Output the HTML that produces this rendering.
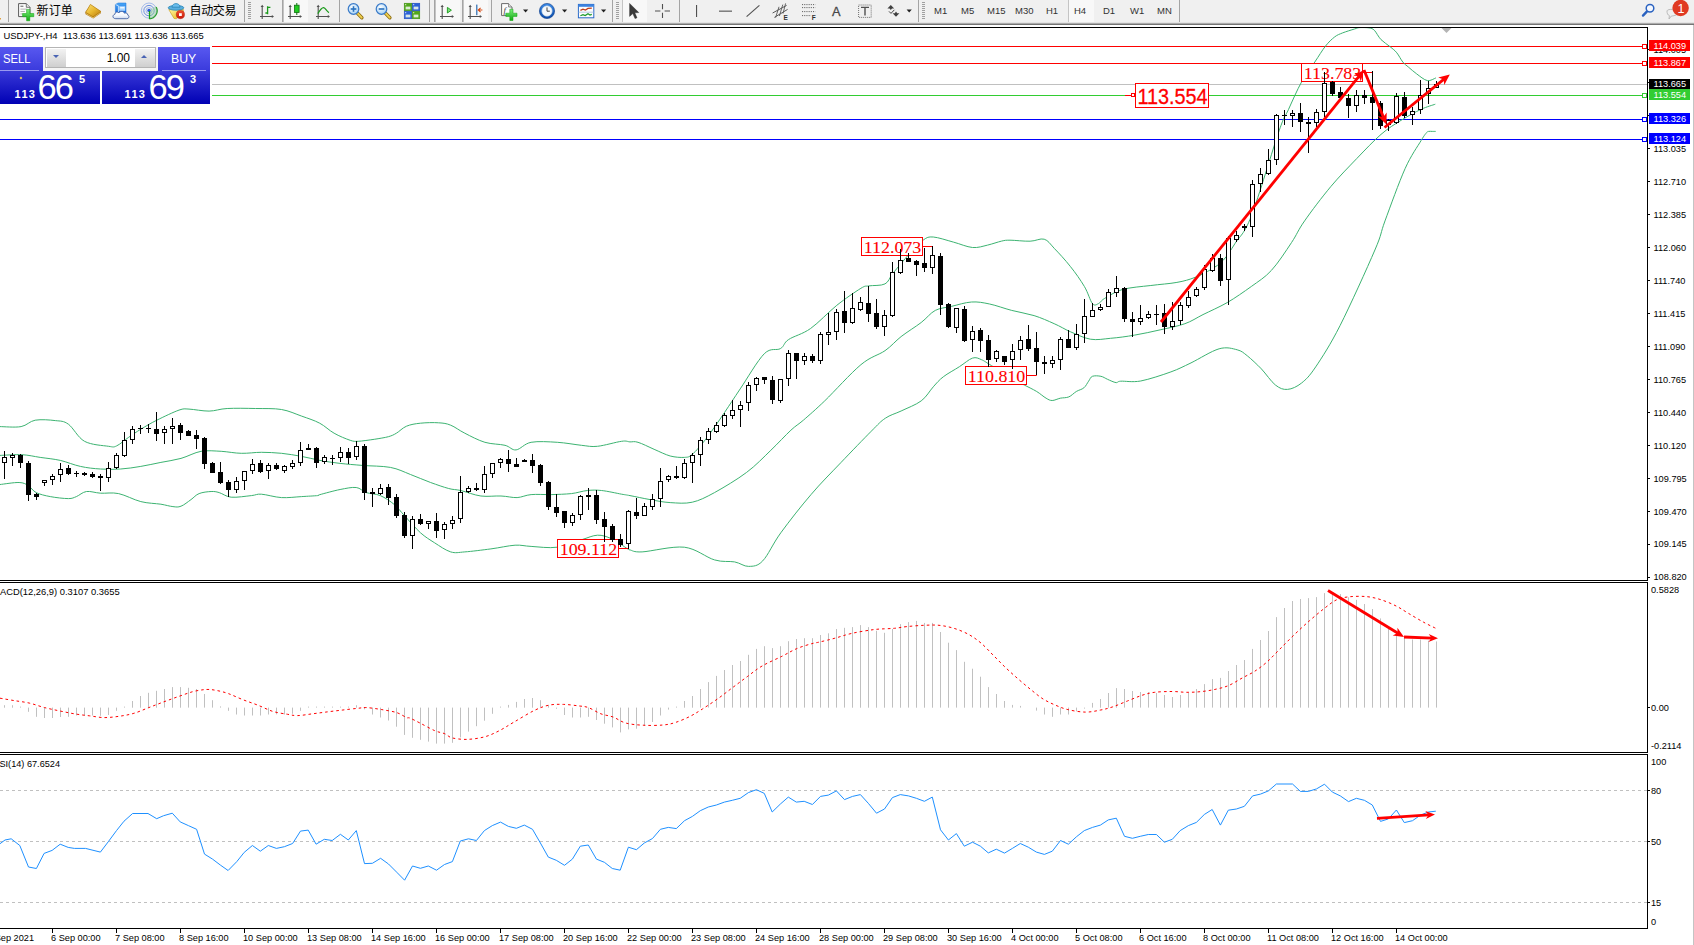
<!DOCTYPE html>
<html><head><meta charset="utf-8"><title>USDJPY H4</title>
<style>
html,body{margin:0;padding:0;background:#fff;}
body{width:1694px;height:945px;overflow:hidden;position:relative;font-family:"Liberation Sans","Noto Sans CJK SC",sans-serif;}
#tb{position:absolute;left:0;top:0;width:1694px;height:23px;background:linear-gradient(#f0f0f0 0,#f0f0f0 21.5px,#dedede 23px);}
#tbl1{position:absolute;left:0;top:23px;width:1694px;height:1px;background:#ababab;}
#tbl2{position:absolute;left:0;top:24px;width:1694px;height:1px;background:#747474;}
#redge{position:absolute;left:1693px;top:25px;width:1px;height:920px;background:#c4c4c4;}
svg{position:absolute;left:0;top:0;}
.ax{font-size:9.2px;fill:#000;font-family:"Liberation Sans",sans-serif;}
.axw{font-size:9.2px;fill:#fff;font-family:"Liberation Sans",sans-serif;}
.cn{position:absolute;top:2px;font-size:12px;line-height:16px;color:#000;white-space:nowrap;letter-spacing:-0.3px}
.tf{position:absolute;top:5px;font-size:9.5px;line-height:12px;color:#333;white-space:nowrap;}
.sep{position:absolute;top:0px;width:1px;height:22px;background:#a4a4a4;}
.grip{position:absolute;top:2px;width:3px;height:18px;background:repeating-linear-gradient(#a0a0a0 0 1px,#f0f0f0 1px 2px);}
.sel{position:absolute;top:0px;height:22px;background:#f8f8f8;border-left:1px solid #c4c4c4;}
#trade{position:absolute;left:0;top:47px;width:210px;height:57px;background:#fff;color:#fff;}
#trade div{position:absolute;}
</style></head><body>
<div id="tb"></div><div id="tbl1"></div><div id="tbl2"></div><div id="redge"></div>

<div class="cn" style="left:36.6px;top:3px;letter-spacing:0.1px">新订单</div>
<div class="cn" style="left:189.6px;top:3px;letter-spacing:-0.4px">自动交易</div>
<div class="sep" style="left:8px"></div>
<div class="sep" style="left:244px"></div>
<div class="sep" style="left:282px"></div>
<div class="sep" style="left:339px"></div>
<div class="sep" style="left:429px"></div>
<div class="sep" style="left:434px"></div>
<div class="sep" style="left:462px"></div>
<div class="sep" style="left:491px"></div>
<div class="sep" style="left:612px"></div>
<div class="sep" style="left:679px"></div>
<div class="sep" style="left:918px"></div>
<div class="sep" style="left:1179px"></div>
<div class="grip" style="left:248px"></div>
<div class="grip" style="left:616px"></div>
<div class="grip" style="left:922px"></div>
<div class="sel" style="left:283px;width:24px"></div>
<div class="sel" style="left:435px;width:24px"></div>
<div class="sel" style="left:463px;width:24px"></div>
<div class="sel" style="left:622px;width:24px"></div>
<div class="sel" style="left:1068px;width:25px"></div>
<div class="tf" style="left:934px">M1</div>
<div class="tf" style="left:961px">M5</div>
<div class="tf" style="left:987px">M15</div>
<div class="tf" style="left:1015px">M30</div>
<div class="tf" style="left:1046px">H1</div>
<div class="tf" style="left:1074px">H4</div>
<div class="tf" style="left:1103px">D1</div>
<div class="tf" style="left:1130px">W1</div>
<div class="tf" style="left:1157px">MN</div>
<svg width="1694" height="945" viewBox="0 0 1694 945">
<defs>
<linearGradient id="gGold" x1="0" y1="0" x2="1" y2="1"><stop offset="0" stop-color="#fbe27a"/><stop offset="0.5" stop-color="#e8b830"/><stop offset="1" stop-color="#b87a10"/></linearGradient>
<linearGradient id="gGreen" x1="0" y1="0" x2="0" y2="1"><stop offset="0" stop-color="#7cf07c"/><stop offset="1" stop-color="#12a812"/></linearGradient>
<linearGradient id="gBlue" x1="0" y1="0" x2="0" y2="1"><stop offset="0" stop-color="#4aa8f8"/><stop offset="1" stop-color="#1a6ad8"/></linearGradient>
<linearGradient id="gCloud" x1="0" y1="0" x2="0" y2="1"><stop offset="0" stop-color="#ffffff"/><stop offset="0.55" stop-color="#f4f8fe"/><stop offset="1" stop-color="#ccd8ee"/></linearGradient>
<radialGradient id="gLens" cx="0.4" cy="0.35" r="0.7"><stop offset="0" stop-color="#ffffff"/><stop offset="1" stop-color="#9ccdf4"/></radialGradient>
<linearGradient id="gClock" x1="0" y1="0" x2="0" y2="1"><stop offset="0" stop-color="#3a8ae8"/><stop offset="1" stop-color="#0a4aa8"/></linearGradient>
<linearGradient id="gYel" x1="0" y1="0" x2="1" y2="1"><stop offset="0" stop-color="#fff4a0"/><stop offset="1" stop-color="#e8b818"/></linearGradient>
<linearGradient id="gRed" x1="0" y1="0" x2="0" y2="1"><stop offset="0" stop-color="#f05030"/><stop offset="1" stop-color="#c81808"/></linearGradient>
</defs>
<rect x="0" y="18" width="1" height="1.5" fill="#e0a040"/>
<g transform="translate(18,3)">
<path d="M0.6 0.6 H8.3 L12 4.3 V13.6 H0.6 Z" fill="#fdfdfd" stroke="#5a5a5a" stroke-width="1"/>
<path d="M8.3 0.6 V4.3 H12" fill="#e4e4e4" stroke="#5a5a5a" stroke-width="0.8"/>
<rect x="2.4" y="2.6" width="3" height="1.4" fill="#8a8a8a"/>
<rect x="2.4" y="5.6" width="6.4" height="1" fill="#b4b4b4"/>
<rect x="2.4" y="8" width="4.5" height="1" fill="#b4b4b4"/>
<rect x="2.4" y="10.4" width="2.5" height="1" fill="#b4b4b4"/>
<path d="M8.6 6.4h3.2v4.1h4v3.2h-4v4.1H8.6v-4.1H4.6v-3.2h4z" fill="url(#gGreen)" stroke="#0aa00a" stroke-width="0.5"/>
</g>
<g>
<path d="M85.3 12.6 L90.4 4.6 L101 11.6 L100.8 13.2 L93.2 18.6 L85.6 14.2 Z" fill="#a86c0c"/>
<path d="M85.6 12.2 C87.6 10 88.6 7 90.4 4.4 L100.9 11.4 L93 16.8 Z" fill="url(#gGold)" stroke="#b8820e" stroke-width="0.6"/>
<path d="M86 13.6 L93.1 17.8 L100.6 12.6" fill="none" stroke="#f6dc80" stroke-width="0.7"/>
</g>
<g>
<path d="M115.4 4.4 L118.2 3 H126 V12.8 H115.4 Z" fill="url(#gBlue)" stroke="#1a72d8" stroke-width="0.5"/>
<path d="M115.6 4.6 L118.4 5.8 V12.6" fill="none" stroke="#cfe8ff" stroke-width="0.9"/>
<rect x="119.2" y="6.2" width="6" height="4.6" fill="#a6d4ff"/>
<rect x="120.2" y="7.2" width="4.2" height="1.2" fill="#ffffff"/>
<path d="M115.8 18.7 C112.4 18.7 112 15 114.8 14.4 C114.6 12 117.8 11.4 119 12.8 C120.2 10.8 123.8 11 124.4 13.2 C126.4 12.4 128.2 13.6 127.6 15 C129.8 15.4 129.4 18.7 126.8 18.7 Z" fill="url(#gCloud)" stroke="#4664a4" stroke-width="0.9"/>
</g>
<g fill="none">
<circle cx="149" cy="10.6" r="7.6" stroke="#9ab4e8" stroke-width="1" opacity="0.9"/>
<circle cx="149" cy="10.6" r="5.2" stroke="#6a8ee0" stroke-width="1"/>
<circle cx="149" cy="10.6" r="3" stroke="#8aaae8" stroke-width="0.8"/>
<path d="M149 10.6 L149 18.6 A8 8 0 0 0 155.6 6.2 Z" fill="#8ccc8c" opacity="0.4"/>
<path d="M149.4 18.8 A8 8 0 0 0 156.2 7" stroke="#2aa02a" stroke-width="1.2"/>
<circle cx="149" cy="10.4" r="1.7" fill="#2a5ad8"/>
<rect x="148.9" y="11" width="1.2" height="8" fill="#18a018"/>
</g>
<g>
<path d="M168.8 9.6 L183.4 9.4 L183.2 12 L176.4 18.8 L174 18.4 Z" fill="url(#gYel)" stroke="#c89a10" stroke-width="0.6"/>
<ellipse cx="176" cy="7.8" rx="7.8" ry="2.4" fill="#5aaede" stroke="#2a86b8" stroke-width="0.8"/>
<path d="M172 7.2 C172 2.4 180 2.4 180 7.2 Z" fill="#6abcec" stroke="#2a86b8" stroke-width="0.8"/>
<circle cx="180.4" cy="14.6" r="4.1" fill="url(#gRed)" stroke="#b01808" stroke-width="0.5"/>
<rect x="179" y="13.2" width="2.8" height="2.8" fill="#fff"/>
</g>
<g stroke="#505050" stroke-width="1.1" fill="#505050">
<path d="M262.2 6.0 V19.0 M260.0 16.5 H272.5" fill="none"/>
<path d="M262.2 4.7 l-1.6 2.2 h3.2z M274.0 16.5 l-2.2 -1.6 v3.2z" stroke="none"/>
</g>
<path d="M267.6 6.2 V14.2 M267.6 7.4 H270.4 M265.4 13 H267.6" stroke="#1a9a1a" stroke-width="1.3" fill="none"/>
<g stroke="#505050" stroke-width="1.1" fill="#505050">
<path d="M290.2 6.0 V19.0 M288.0 16.5 H300.5" fill="none"/>
<path d="M290.2 4.7 l-1.6 2.2 h3.2z M302.0 16.5 l-2.2 -1.6 v3.2z" stroke="none"/>
</g>
<rect x="296.3" y="3" width="1" height="12" fill="#107010"/>
<rect x="294.5" y="5.2" width="4.6" height="7.2" fill="#22cc22" stroke="#107010" stroke-width="0.8"/>
<g stroke="#505050" stroke-width="1.1" fill="#505050">
<path d="M318.2 6.0 V19.0 M316.0 16.5 H328.5" fill="none"/>
<path d="M318.2 4.7 l-1.6 2.2 h3.2z M330.0 16.5 l-2.2 -1.6 v3.2z" stroke="none"/>
</g>
<path d="M317.8 13.6 C320 10 322 7.4 323.6 7.6 C325.6 8 326.6 11.4 329 12.6" stroke="#1a9a1a" stroke-width="1.2" fill="none"/>
<path d="M357.5 13.2 L361.9 17.8" stroke="#8a6a10" stroke-width="3.4" stroke-linecap="round"/>
<path d="M357.7 13.4 L361.7 17.6" stroke="#f0d050" stroke-width="2" stroke-linecap="round"/>
<circle cx="353.5" cy="9.0" r="5.3" fill="url(#gLens)" stroke="#3a7ac8" stroke-width="1.2"/>
<rect x="350.7" y="8.2" width="5.6" height="1.6" fill="#2a72c0"/>
<rect x="352.7" y="6.2" width="1.6" height="5.6" fill="#2a72c0"/>
<path d="M385.5 13.2 L389.9 17.8" stroke="#8a6a10" stroke-width="3.4" stroke-linecap="round"/>
<path d="M385.7 13.4 L389.7 17.6" stroke="#f0d050" stroke-width="2" stroke-linecap="round"/>
<circle cx="381.5" cy="9.0" r="5.3" fill="url(#gLens)" stroke="#3a7ac8" stroke-width="1.2"/>
<rect x="378.7" y="8.2" width="5.6" height="1.6" fill="#2a72c0"/>
<rect x="404.2" y="3.2" width="7.6" height="7.6" fill="#52a818" stroke="#3a8a10" stroke-width="0.5"/>
<rect x="405.6" y="6.6" width="4.8" height="2.8" fill="#e8f4e8" opacity="0.9"/>
<rect x="405.2" y="4.2" width="1" height="1" fill="#fff"/>
<rect x="412.2" y="3.2" width="7.6" height="7.6" fill="#2a62d8" stroke="#1a4ab8" stroke-width="0.5"/>
<rect x="413.6" y="6.6" width="4.8" height="2.8" fill="#e8f4e8" opacity="0.9"/>
<rect x="413.2" y="4.2" width="1" height="1" fill="#fff"/>
<rect x="404.2" y="11.2" width="7.6" height="7.6" fill="#2a62d8" stroke="#1a4ab8" stroke-width="0.5"/>
<rect x="405.6" y="14.6" width="4.8" height="2.8" fill="#e8f4e8" opacity="0.9"/>
<rect x="405.2" y="12.2" width="1" height="1" fill="#fff"/>
<rect x="412.2" y="11.2" width="7.6" height="7.6" fill="#52a818" stroke="#3a8a10" stroke-width="0.5"/>
<rect x="413.6" y="14.6" width="4.8" height="2.8" fill="#e8f4e8" opacity="0.9"/>
<rect x="413.2" y="12.2" width="1" height="1" fill="#fff"/>
<g stroke="#505050" stroke-width="1.1" fill="#505050">
<path d="M442.2 6.0 V19.0 M440.0 16.5 H452.5" fill="none"/>
<path d="M442.2 4.7 l-1.6 2.2 h3.2z M454.0 16.5 l-2.2 -1.6 v3.2z" stroke="none"/>
</g>
<path d="M447.4 7.4 L451.4 10.2 L447.4 13 Z" fill="#7ce07c" stroke="#1a9a1a" stroke-width="0.9"/>
<g stroke="#505050" stroke-width="1.1" fill="#505050">
<path d="M470.2 6.0 V19.0 M468.0 16.5 H480.5" fill="none"/>
<path d="M470.2 4.7 l-1.6 2.2 h3.2z M482.0 16.5 l-2.2 -1.6 v3.2z" stroke="none"/>
</g>
<rect x="476.2" y="4.6" width="1.2" height="10.6" fill="#2a6ab0"/>
<path d="M482.4 10 H478.4 M480.6 7.8 L478.2 10 L480.6 12.2" stroke="#d84a10" stroke-width="1.1" fill="none"/>
<g transform="translate(501,3)">
<path d="M0.6 0.6 H7.6 L11 4 V12.6 H0.6 Z" fill="#fdfdfd" stroke="#6a6a6a" stroke-width="1"/>
<path d="M7.6 0.6 V4 H11" fill="#e4e4e4" stroke="#6a6a6a" stroke-width="0.8"/>
<text x="2.4" y="10.4" font-family="Liberation Serif,serif" font-style="italic" font-size="9" fill="#404040">f</text>
<path d="M8.8 6.2h3.2v4h4v3.2h-4v4.1H8.8v-4.1H4.8v-3.2h4z" fill="url(#gGreen)" stroke="#0aa00a" stroke-width="0.5"/>
</g>
<path d="M523.0 9.6 h5.2 l-2.6 3 z" fill="#202020"/>
<circle cx="547" cy="11" r="7.6" fill="url(#gClock)" stroke="#0a3a88" stroke-width="0.6"/>
<circle cx="547" cy="11" r="5.2" fill="#f4f8fc" stroke="#b8cce0" stroke-width="0.6"/>
<path d="M547 7.4 V11.2 H549.8" stroke="#404040" stroke-width="1" fill="none"/>
<path d="M562.0 9.6 h5.2 l-2.6 3 z" fill="#202020"/>
<rect x="578.4" y="4.4" width="15.4" height="13.4" fill="#fcfcfc" stroke="#2a6ac8" stroke-width="1"/>
<rect x="578.4" y="4.4" width="15.4" height="2.4" fill="#3a82e0"/>
<path d="M578.6 12.2 H593.6" stroke="#a8c0e0" stroke-width="0.8"/>
<path d="M580.4 10.4 L583 9.2 L585.4 10 L588 8.4 L591.8 8.2" stroke="#c03a1a" stroke-width="1.2" fill="none"/>
<path d="M580.4 15.8 L583 14.6 L585.2 15.6 L588 13.8 L590 15 L591.8 14.4" stroke="#1a9a2a" stroke-width="1.2" fill="none"/>
<path d="M601.0 9.6 h5.2 l-2.6 3 z" fill="#202020"/>
<path d="M629.6 3.4 V16.4 L632.8 13.6 L635 18.6 L637 17.8 L634.8 12.8 L638.8 12.6 Z" fill="#3a3a3a" stroke="#202020" stroke-width="0.4"/>
<path d="M662.5 4 V9.2 M662.5 12.8 V18 M655 11 H660.4 M664.6 11 H670" stroke="#505050" stroke-width="1.1" fill="none"/>
<rect x="696" y="5" width="1.1" height="12" fill="#505050"/>
<rect x="719" y="10.6" width="13" height="1.1" fill="#505050"/>
<path d="M746.6 16.6 L759.4 5.4" stroke="#505050" stroke-width="1.1"/>
<g stroke="#585858" stroke-width="1" fill="none">
<path d="M772.6 13 L786.6 5.4 M774.4 17.4 L787.6 9.4"/>
<path d="M775.6 17.6 L779 6.8 M779.4 16 L782.8 4.6 M783 13.6 L785.6 3.4" stroke-width="0.9"/>
</g>
<text x="783.6" y="19.6" font-family="Liberation Sans,sans-serif" font-size="6.5" font-weight="bold" fill="#303030">E</text>
<path d="M802 4.6 H815.4" stroke="#505050" stroke-width="0.9" stroke-dasharray="1.1 1.1"/>
<path d="M802 7.6 H815.4" stroke="#505050" stroke-width="0.9" stroke-dasharray="1.1 1.1"/>
<path d="M802 11.6 H815.4" stroke="#505050" stroke-width="0.9" stroke-dasharray="1.1 1.1"/>
<path d="M802 15.6 H811.0" stroke="#505050" stroke-width="0.9" stroke-dasharray="1.1 1.1"/>
<text x="811.8" y="19.6" font-family="Liberation Sans,sans-serif" font-size="6.5" font-weight="bold" fill="#303030">F</text>
<text x="832" y="16.2" font-family="Liberation Sans,sans-serif" font-size="12.8" fill="#484848" stroke="#484848" stroke-width="0.3">A</text>
<rect x="858.6" y="5" width="12.6" height="12.4" fill="none" stroke="#606060" stroke-width="0.9" stroke-dasharray="1 1"/>
<path d="M861 7.4 H869 M865 7.4 V15.6" stroke="#505050" stroke-width="1.4" fill="none"/>
<path d="M887.4 8.4 l3.4 -3.4 l3.4 3.4 h-2.2 l-1.2 1.6 l-1.2 -1.6z" fill="#404040"/>
<path d="M892.6 13.2 l3.4 3.6 l3.4 -3.6 h-2.2 l-1.2 -1.6 l-1.2 1.6z" fill="#404040"/>
<path d="M889 11.4 l2 2 l3.4 -3.6" stroke="#404040" stroke-width="1" fill="none"/>
<path d="M906.6 9.6 h5.2 l-2.6 3 z" fill="#202020"/>
<path d="M1643 15.6 L1647 11.4" stroke="#2a62c0" stroke-width="2.4" stroke-linecap="round"/>
<circle cx="1650" cy="8.2" r="3.8" fill="#f4f8ff" stroke="#2a62c0" stroke-width="1.5"/>
<path d="M1667 11 C1667 8.6 1678 8.6 1678 12.6 C1678 15.6 1672 16 1671.4 16 L1669 19 L1669.4 15.6 C1667.6 15 1667 13.4 1667 11 Z" fill="#f0f0f0" stroke="#b4b4b4" stroke-width="0.9"/>
<circle cx="1680.6" cy="8" r="8.2" fill="#e03a22"/>
<text x="1677.6" y="12.6" font-family="Liberation Sans,sans-serif" font-size="12.5" fill="#fff">1</text>
<rect x="212" y="46" width="1435" height="1" fill="#ff0000"/>
<rect x="212" y="63" width="1435" height="1" fill="#ff0000"/>
<rect x="212" y="84" width="1435" height="1" fill="#c0c0c0"/>
<rect x="212" y="95" width="1435" height="1" fill="#32cd32"/>
<rect x="0" y="119" width="1647" height="1" fill="#0000ff"/>
<rect x="0" y="139" width="1647" height="1" fill="#0000ff"/>
<path d="M0.0 426.6 C3.5 426.6 15.2 427.7 21.1 426.6 C27.0 425.5 29.5 421.2 35.2 420.2 C40.9 419.2 49.8 419.9 55.3 420.6 C60.8 421.2 63.5 420.7 68.4 424.2 C73.2 427.6 77.8 437.6 84.5 441.3 C91.2 445.0 103.2 445.5 108.6 446.3 C113.9 447.1 113.3 447.4 116.6 445.9 C120.0 444.4 124.7 440.0 128.7 437.3 C132.7 434.5 136.1 432.1 140.8 429.2 C145.5 426.4 150.5 423.3 156.8 420.2 C163.2 417.0 173.6 412.0 179.0 410.1 C184.3 408.3 184.0 408.9 189.0 409.1 C194.0 409.3 202.8 411.2 209.1 411.1 C215.5 411.0 219.5 408.9 227.2 408.5 C234.9 408.1 246.3 408.3 255.4 408.5 C264.4 408.7 273.8 408.2 281.5 409.5 C289.2 410.8 295.3 413.9 301.6 416.1 C308.0 418.4 314.3 420.3 319.7 423.2 C325.1 426.0 329.0 430.4 334.1 433.2 C339.1 436.1 346.1 438.9 350.2 440.3 C354.2 441.6 354.2 441.4 358.2 441.3 C362.2 441.1 369.3 440.0 374.3 439.3 C379.3 438.5 384.7 437.7 388.4 436.7 C392.1 435.6 393.4 435.0 396.4 433.2 C399.4 431.5 402.4 427.9 406.5 426.2 C410.5 424.5 415.2 423.7 420.5 423.2 C425.9 422.6 433.6 422.4 438.6 422.8 C443.7 423.1 446.3 423.4 450.7 425.2 C455.1 426.9 459.1 430.4 464.8 433.2 C470.5 436.1 478.2 440.3 484.9 442.3 C491.6 444.3 499.8 444.0 505.0 445.3 C510.2 446.6 511.7 450.4 516.1 449.9 C520.4 449.4 524.3 443.6 531.1 442.3 C538.0 441.0 548.9 441.8 557.3 442.3 C565.7 442.8 574.7 444.6 581.4 445.3 C588.1 446.0 590.8 447.0 597.5 446.3 C604.2 445.6 616.2 442.0 621.6 441.3 C627.0 440.5 627.3 441.7 630.0 441.9 C632.7 442.0 634.0 441.0 638.0 442.3 C642.1 443.5 648.8 447.0 654.1 449.3 C659.5 451.6 665.2 454.6 670.2 456.0 C675.2 457.3 680.6 457.6 684.3 457.4 C688.0 457.1 688.7 457.5 692.3 454.3 C696.0 451.2 701.1 445.2 706.4 438.3 C711.8 431.3 718.9 420.8 724.5 412.5 C730.1 404.3 733.6 398.7 740.2 388.9 C746.9 379.0 757.6 360.4 764.3 353.7 C771.1 347.0 776.4 351.0 780.4 348.6 C784.5 346.3 783.5 342.9 788.5 339.6 C793.5 336.2 802.6 334.2 810.6 328.5 C818.6 322.8 828.4 312.1 836.7 305.4 C845.1 298.7 855.5 291.6 860.9 288.3 C866.2 285.1 864.9 286.6 868.9 285.9 C872.9 285.2 881.0 286.0 885.0 283.9 C889.0 281.8 889.0 278.2 893.0 273.2 C897.1 268.3 904.1 259.7 909.1 254.1 C914.2 248.6 919.2 242.9 923.2 240.1 C927.2 237.2 928.2 236.7 933.3 237.0 C938.3 237.4 946.8 240.3 953.4 242.1 C959.9 243.8 966.8 247.0 972.5 247.5 C978.2 248.0 982.7 246.2 987.6 245.1 C992.4 244.0 997.9 241.9 1001.6 241.1 C1005.4 240.2 1005.3 240.2 1010.0 240.2 C1014.7 240.2 1024.4 241.4 1030.1 241.2 C1035.8 241.1 1040.2 238.0 1044.2 239.2 C1048.2 240.4 1049.9 243.7 1054.2 248.3 C1058.6 252.8 1065.3 260.0 1070.3 266.4 C1075.4 272.7 1080.7 280.3 1084.4 286.5 C1088.1 292.7 1090.1 300.7 1092.4 303.6 C1094.8 306.4 1096.5 304.4 1098.5 303.6 C1100.5 302.7 1100.5 300.9 1104.5 298.5 C1108.5 296.2 1114.9 291.7 1122.6 289.5 C1130.3 287.3 1141.7 286.6 1150.8 285.5 C1159.8 284.3 1169.5 283.8 1176.9 282.4 C1184.3 281.1 1189.3 279.6 1195.0 277.4 C1200.7 275.2 1206.4 272.2 1211.1 269.4 C1215.8 266.5 1219.1 264.7 1223.2 260.3 C1227.2 256.0 1230.5 250.6 1235.2 243.2 C1239.9 235.9 1244.0 234.8 1251.3 216.1 C1258.6 197.4 1272.9 148.6 1279.1 130.8 C1285.3 113.1 1284.6 117.8 1288.4 109.7 C1292.1 101.5 1297.2 89.8 1301.6 81.9 C1306.0 73.9 1310.9 68.0 1314.8 62.0 C1318.8 56.1 1322.1 50.4 1325.4 46.2 C1328.7 42.0 1331.8 39.1 1334.7 36.9 C1337.5 34.7 1339.3 34.3 1342.6 32.9 C1345.9 31.6 1351.6 29.9 1354.5 29.0 C1357.4 28.1 1357.4 27.8 1359.8 27.6 C1362.2 27.5 1366.6 27.5 1369.1 27.9 C1371.5 28.4 1372.4 28.4 1374.4 30.3 C1376.3 32.2 1378.3 36.8 1381.0 39.6 C1383.6 42.3 1387.6 44.6 1390.2 46.8 C1392.9 49.0 1394.7 50.2 1396.8 52.8 C1398.9 55.3 1400.8 59.6 1402.8 62.0 C1404.8 64.5 1406.4 65.3 1408.7 67.3 C1411.1 69.3 1413.6 71.7 1416.7 73.9 C1419.8 76.2 1424.1 79.9 1427.3 80.6 C1430.5 81.2 1434.4 78.4 1435.9 77.9" fill="none" stroke="#3cb371" stroke-width="1"/>
<path d="M0.0 455.4 C3.7 455.3 15.4 454.4 22.1 454.7 C28.8 455.1 33.8 456.4 40.2 457.4 C46.6 458.3 53.6 458.9 60.3 460.4 C67.0 461.9 73.7 465.0 80.4 466.4 C87.1 467.9 93.8 468.6 100.5 469.0 C107.2 469.5 113.9 469.5 120.7 469.0 C127.4 468.6 134.1 467.5 140.8 466.4 C147.5 465.3 154.2 463.7 160.9 462.4 C167.6 461.1 174.3 460.2 181.0 458.4 C187.7 456.5 194.4 452.5 201.1 451.3 C207.8 450.2 214.5 451.0 221.2 451.3 C227.9 451.7 234.6 453.2 241.3 453.3 C248.0 453.5 254.7 452.3 261.4 452.3 C268.1 452.3 274.8 452.7 281.5 453.3 C288.2 454.0 295.2 455.2 301.6 456.4 C308.0 457.5 313.6 459.2 320.0 460.4 C326.4 461.6 333.1 462.6 340.1 463.4 C347.1 464.2 353.8 464.7 362.2 465.4 C370.6 466.1 382.3 465.9 390.4 467.4 C398.4 468.9 403.8 471.9 410.5 474.5 C417.2 477.0 424.2 480.2 430.6 482.5 C437.0 484.8 443.7 487.2 448.7 488.5 C453.7 489.9 455.4 489.3 460.8 490.5 C466.1 491.8 474.2 495.1 480.9 496.0 C487.6 496.9 494.9 495.7 501.0 496.0 C507.0 496.2 512.0 497.8 517.1 497.6 C522.1 497.3 525.4 495.1 531.1 494.6 C536.8 494.1 544.5 494.7 551.2 494.6 C558.0 494.4 565.3 494.2 571.4 493.6 C577.4 492.9 582.4 491.0 587.4 490.5 C592.5 490.0 595.8 489.9 601.5 490.5 C607.2 491.1 616.9 493.3 621.6 494.2 C626.4 495.0 625.3 494.7 630.0 495.6 C634.7 496.5 643.4 498.4 650.1 499.6 C656.8 500.8 663.2 502.2 670.2 502.6 C677.3 503.0 685.0 503.9 692.3 502.2 C699.7 500.5 705.4 497.5 714.5 492.6 C723.5 487.6 737.2 479.5 746.6 472.4 C756.0 465.4 763.4 457.4 770.8 450.3 C778.1 443.3 785.4 435.3 790.9 430.2 C796.3 425.2 797.9 424.9 803.6 420.0 C809.2 415.1 815.1 410.1 824.7 400.9 C834.2 391.7 850.8 373.1 860.9 364.7 C870.9 356.3 878.3 355.3 885.0 350.7 C891.7 346.0 895.1 341.3 901.1 336.6 C907.1 331.9 915.5 326.9 921.2 322.5 C926.9 318.1 930.2 313.1 935.3 310.4 C940.3 307.8 945.3 307.8 951.4 306.4 C957.4 305.0 965.1 302.4 971.5 302.0 C977.8 301.6 982.9 302.6 989.6 304.0 C996.3 305.4 1004.3 308.5 1011.7 310.4 C1019.1 312.4 1027.0 313.4 1034.1 315.6 C1041.2 317.8 1048.2 321.0 1054.2 323.7 C1060.3 326.3 1064.3 329.1 1070.3 331.7 C1076.4 334.3 1083.7 338.0 1090.4 339.2 C1097.1 340.3 1103.2 339.0 1110.5 338.3 C1117.9 337.7 1126.3 336.6 1134.7 335.1 C1143.1 333.7 1152.4 331.6 1160.8 329.7 C1169.2 327.8 1177.9 326.2 1184.9 323.7 C1192.0 321.2 1196.0 318.1 1203.0 314.6 C1210.1 311.1 1219.1 307.2 1227.2 302.6 C1235.2 297.9 1243.9 291.8 1251.3 286.5 C1258.7 281.1 1264.7 277.7 1271.4 270.4 C1278.1 263.1 1286.0 250.9 1291.5 242.6 C1297.0 234.4 1298.0 230.2 1304.6 220.9 C1311.1 211.5 1322.0 197.1 1330.7 186.7 C1339.4 176.3 1348.5 167.2 1356.8 158.5 C1365.2 149.8 1373.6 140.8 1381.0 134.4 C1388.4 128.0 1394.4 124.5 1401.1 120.3 C1407.8 116.1 1415.5 111.9 1421.2 109.3 C1426.9 106.6 1432.9 105.1 1435.3 104.2" fill="none" stroke="#3cb371" stroke-width="1"/>
<path d="M0.0 484.5 C3.2 484.2 14.4 482.3 19.1 482.5 C23.8 482.7 25.3 483.8 28.2 485.5 C31.0 487.2 32.5 490.7 36.2 492.6 C39.9 494.4 44.9 495.6 50.3 496.6 C55.6 497.6 64.0 498.6 68.4 498.6 C72.7 498.6 73.4 497.7 76.4 496.6 C79.4 495.4 82.4 492.1 86.5 491.5 C90.5 491.0 95.2 492.8 100.5 493.2 C105.9 493.5 111.9 492.2 118.6 493.6 C125.3 495.0 133.7 499.8 140.8 501.6 C147.8 503.4 155.5 503.4 160.9 504.2 C166.2 505.1 169.6 506.3 172.9 506.6 C176.3 507.0 178.0 507.4 181.0 506.2 C184.0 505.1 188.0 501.7 191.0 499.6 C194.0 497.5 195.7 494.9 199.1 493.6 C202.4 492.2 207.8 491.7 211.1 491.5 C214.5 491.4 215.8 491.6 219.2 492.6 C222.5 493.5 225.9 496.7 231.2 497.2 C236.6 497.7 246.3 496.1 251.4 495.6 C256.4 495.1 256.4 493.8 261.4 494.2 C266.4 494.5 274.8 497.2 281.5 497.6 C288.2 498.0 295.6 496.9 301.6 496.6 C307.7 496.2 314.7 495.9 317.7 495.6 C320.8 495.2 316.3 495.6 320.0 494.6 C323.7 493.6 334.1 490.7 340.1 489.5 C346.1 488.4 351.8 487.0 356.2 487.5 C360.6 488.0 362.2 491.2 366.2 492.6 C370.3 493.9 375.6 493.6 380.3 495.6 C385.0 497.6 390.4 501.3 394.4 504.6 C398.4 508.0 400.1 511.0 404.5 515.7 C408.8 520.4 415.5 528.2 420.5 532.8 C425.6 537.3 429.6 539.6 434.6 542.8 C439.6 546.0 445.7 550.4 450.7 551.9 C455.7 553.4 458.1 552.4 464.8 551.9 C471.5 551.4 482.5 550.0 490.9 548.9 C499.3 547.8 508.4 545.6 515.1 545.2 C521.8 544.8 524.1 546.1 531.1 546.4 C538.2 546.8 548.9 548.4 557.3 547.2 C565.7 546.1 574.7 541.8 581.4 539.8 C588.1 537.8 592.5 535.4 597.5 535.2 C602.5 535.0 606.5 536.5 611.6 538.8 C616.6 541.1 624.6 547.0 627.7 548.9 C630.7 550.7 627.6 549.4 630.0 549.9 C632.4 550.4 633.0 552.3 642.1 551.9 C651.1 551.4 672.2 545.9 684.3 547.2 C696.4 548.6 706.1 557.5 714.5 559.9 C722.8 562.4 728.9 560.9 734.6 561.9 C740.3 563.0 743.9 566.5 748.6 566.4 C753.3 566.2 757.4 566.5 762.7 560.9 C768.1 555.3 772.8 543.8 780.8 532.8 C788.9 521.7 800.9 506.3 811.0 494.6 C821.0 482.8 831.1 472.9 841.1 462.4 C851.2 451.8 863.9 438.6 871.3 431.2 C878.7 423.8 880.4 421.5 885.4 418.2 C890.3 414.8 895.1 413.8 901.1 411.0 C907.1 408.1 915.8 404.9 921.2 400.9 C926.6 396.9 929.6 390.9 933.3 386.8 C936.9 382.8 939.0 380.1 943.3 376.8 C947.7 373.4 954.5 369.9 959.4 366.7 C964.3 363.6 968.8 359.3 972.5 358.1 C976.2 356.9 978.3 358.4 981.5 359.7 C984.7 361.0 986.2 362.5 991.6 365.7 C996.9 368.9 1008.7 375.8 1013.7 378.8 C1018.7 381.8 1020.0 382.8 1021.7 383.8 C1023.5 384.9 1021.9 383.8 1024.4 385.1 C1026.9 386.4 1033.1 389.3 1036.7 391.5 C1040.3 393.7 1043.5 396.7 1046.1 398.2 C1048.7 399.7 1049.8 400.5 1052.2 400.5 C1054.6 400.5 1057.5 398.8 1060.3 398.2 C1063.1 397.6 1066.1 398.0 1068.8 396.9 C1071.5 395.8 1073.8 393.0 1076.3 391.5 C1078.8 390.0 1081.9 389.5 1083.9 387.8 C1086.0 386.1 1087.2 383.1 1088.6 381.2 C1090.0 379.3 1090.4 377.1 1092.4 376.3 C1094.5 375.5 1098.4 375.8 1100.9 376.3 C1103.4 376.8 1105.0 378.2 1107.5 379.3 C1110.0 380.4 1113.8 382.3 1116.0 382.6 C1118.2 382.9 1116.6 381.5 1120.7 381.2 C1124.8 380.9 1132.3 382.5 1140.7 381.0 C1149.1 379.4 1162.5 374.9 1170.9 371.9 C1179.2 368.9 1182.9 366.7 1191.0 362.9 C1199.0 359.0 1211.4 351.0 1219.1 348.8 C1226.8 346.6 1232.5 348.6 1237.2 349.8 C1241.9 351.0 1243.3 352.7 1247.3 355.8 C1251.3 359.0 1256.7 364.1 1261.4 368.9 C1266.0 373.8 1271.1 381.6 1275.4 385.0 C1279.8 388.4 1283.1 389.8 1287.5 389.4 C1291.9 389.1 1296.9 386.7 1301.6 383.0 C1306.3 379.2 1309.2 376.5 1315.7 366.9 C1322.1 357.3 1330.1 345.2 1340.0 325.7 C1349.9 306.2 1367.4 267.5 1374.9 250.0 C1382.4 232.6 1380.0 234.4 1385.0 220.9 C1390.0 207.3 1399.1 182.0 1405.1 168.6 C1411.1 155.2 1417.6 146.5 1421.2 140.4 C1424.8 134.4 1425.6 133.9 1426.8 132.4 C1428.1 130.9 1427.9 131.6 1428.8 131.4 C1429.7 131.2 1431.1 131.4 1432.3 131.4 C1433.4 131.4 1435.1 131.4 1435.7 131.4" fill="none" stroke="#3cb371" stroke-width="1"/>
<g fill="#000" shape-rendering="crispEdges">
<rect x="0" y="27" width="1648" height="1"/>
<rect x="1647" y="27" width="1" height="902"/>
<rect x="0" y="580" width="1648" height="1"/>
<rect x="0" y="582" width="1648" height="1"/>
<rect x="0" y="752" width="1648" height="1"/>
<rect x="0" y="754" width="1648" height="1"/>
<rect x="0" y="928" width="1648" height="1"/>
</g>
<rect x="0" y="581" width="1657" height="1" fill="#fff"/>
<rect x="0" y="753" width="1657" height="1" fill="#fff"/>
<rect x="1648" y="49" width="2" height="1" fill="#000"/>
<text class="ax" x="1653.5" y="53.1">114.005</text>
<rect x="1648" y="82" width="2" height="1" fill="#000"/>
<text class="ax" x="1653.5" y="86.1">113.680</text>
<rect x="1648" y="115" width="2" height="1" fill="#000"/>
<text class="ax" x="1653.5" y="119.0">113.360</text>
<rect x="1648" y="148" width="2" height="1" fill="#000"/>
<text class="ax" x="1653.5" y="152.0">113.035</text>
<rect x="1648" y="181" width="2" height="1" fill="#000"/>
<text class="ax" x="1653.5" y="184.9">112.710</text>
<rect x="1648" y="214" width="2" height="1" fill="#000"/>
<text class="ax" x="1653.5" y="217.9">112.385</text>
<rect x="1648" y="247" width="2" height="1" fill="#000"/>
<text class="ax" x="1653.5" y="250.9">112.060</text>
<rect x="1648" y="280" width="2" height="1" fill="#000"/>
<text class="ax" x="1653.5" y="283.8">111.740</text>
<rect x="1648" y="313" width="2" height="1" fill="#000"/>
<text class="ax" x="1653.5" y="316.8">111.415</text>
<rect x="1648" y="346" width="2" height="1" fill="#000"/>
<text class="ax" x="1653.5" y="349.7">111.090</text>
<rect x="1648" y="379" width="2" height="1" fill="#000"/>
<text class="ax" x="1653.5" y="382.7">110.765</text>
<rect x="1648" y="412" width="2" height="1" fill="#000"/>
<text class="ax" x="1653.5" y="415.6">110.440</text>
<rect x="1648" y="445" width="2" height="1" fill="#000"/>
<text class="ax" x="1653.5" y="448.6">110.120</text>
<rect x="1648" y="478" width="2" height="1" fill="#000"/>
<text class="ax" x="1653.5" y="481.5">109.795</text>
<rect x="1648" y="511" width="2" height="1" fill="#000"/>
<text class="ax" x="1653.5" y="514.5">109.470</text>
<rect x="1648" y="544" width="2" height="1" fill="#000"/>
<text class="ax" x="1653.5" y="547.4">109.145</text>
<rect x="1648" y="577" width="2" height="1" fill="#000"/>
<text class="ax" x="1653.5" y="580.3">108.820</text>
<rect x="1649" y="40" width="41" height="11" fill="#ff0000"/>
<text class="axw" x="1653.5" y="48.8">114.039</text>
<rect x="1642.5" y="44.5" width="4" height="4" fill="#fff" stroke="#ff0000" stroke-width="1"/>
<rect x="1649" y="57" width="41" height="11" fill="#ff0000"/>
<text class="axw" x="1653.5" y="65.8">113.867</text>
<rect x="1642.5" y="61.5" width="4" height="4" fill="#fff" stroke="#ff0000" stroke-width="1"/>
<rect x="1649" y="89" width="41" height="11" fill="#32cd32"/>
<text class="axw" x="1653.5" y="97.8">113.554</text>
<rect x="1642.5" y="93.5" width="4" height="4" fill="#fff" stroke="#32cd32" stroke-width="1"/>
<rect x="1649" y="79" width="41" height="10" fill="#000000"/>
<text class="axw" x="1653.5" y="86.8">113.665</text>
<rect x="1649" y="113" width="41" height="11" fill="#0000ff"/>
<text class="axw" x="1653.5" y="121.8">113.326</text>
<rect x="1642.5" y="117.5" width="4" height="4" fill="#fff" stroke="#0000ff" stroke-width="1"/>
<rect x="1649" y="133" width="41" height="11" fill="#0000ff"/>
<text class="axw" x="1653.5" y="141.8">113.124</text>
<rect x="1642.5" y="137.5" width="4" height="4" fill="#fff" stroke="#0000ff" stroke-width="1"/>
<text class="ax" x="1651" y="593.3">0.5828</text>
<text class="ax" x="1651" y="710.8">0.00</text>
<text class="ax" x="1651" y="749.3">-0.2114</text>
<text class="ax" x="1651" y="764.8">100</text>
<text class="ax" x="1651" y="793.9">80</text>
<text class="ax" x="1651" y="844.8">50</text>
<text class="ax" x="1651" y="905.6">15</text>
<text class="ax" x="1651" y="924.8">0</text>
<rect x="1648" y="707" width="2" height="1" fill="#000"/>
<rect x="1648" y="790" width="2" height="1" fill="#000"/>
<rect x="1648" y="841" width="2" height="1" fill="#000"/>
<rect x="1648" y="902" width="2" height="1" fill="#000"/>
<rect x="-12" y="929" width="1" height="4" fill="#000"/>
<text class="ax" x="-13.0" y="941">3 Sep 2021</text>
<rect x="52" y="929" width="1" height="4" fill="#000"/>
<text class="ax" x="51.0" y="941">6 Sep 00:00</text>
<rect x="116" y="929" width="1" height="4" fill="#000"/>
<text class="ax" x="115.0" y="941">7 Sep 08:00</text>
<rect x="180" y="929" width="1" height="4" fill="#000"/>
<text class="ax" x="179.0" y="941">8 Sep 16:00</text>
<rect x="244" y="929" width="1" height="4" fill="#000"/>
<text class="ax" x="243.0" y="941">10 Sep 00:00</text>
<rect x="308" y="929" width="1" height="4" fill="#000"/>
<text class="ax" x="307.0" y="941">13 Sep 08:00</text>
<rect x="372" y="929" width="1" height="4" fill="#000"/>
<text class="ax" x="371.0" y="941">14 Sep 16:00</text>
<rect x="436" y="929" width="1" height="4" fill="#000"/>
<text class="ax" x="435.0" y="941">16 Sep 00:00</text>
<rect x="500" y="929" width="1" height="4" fill="#000"/>
<text class="ax" x="499.0" y="941">17 Sep 08:00</text>
<rect x="564" y="929" width="1" height="4" fill="#000"/>
<text class="ax" x="563.0" y="941">20 Sep 16:00</text>
<rect x="628" y="929" width="1" height="4" fill="#000"/>
<text class="ax" x="627.0" y="941">22 Sep 00:00</text>
<rect x="692" y="929" width="1" height="4" fill="#000"/>
<text class="ax" x="691.0" y="941">23 Sep 08:00</text>
<rect x="756" y="929" width="1" height="4" fill="#000"/>
<text class="ax" x="755.0" y="941">24 Sep 16:00</text>
<rect x="820" y="929" width="1" height="4" fill="#000"/>
<text class="ax" x="819.0" y="941">28 Sep 00:00</text>
<rect x="884" y="929" width="1" height="4" fill="#000"/>
<text class="ax" x="883.0" y="941">29 Sep 08:00</text>
<rect x="948" y="929" width="1" height="4" fill="#000"/>
<text class="ax" x="947.0" y="941">30 Sep 16:00</text>
<rect x="1012" y="929" width="1" height="4" fill="#000"/>
<text class="ax" x="1011.0" y="941">4 Oct 00:00</text>
<rect x="1076" y="929" width="1" height="4" fill="#000"/>
<text class="ax" x="1075.0" y="941">5 Oct 08:00</text>
<rect x="1140" y="929" width="1" height="4" fill="#000"/>
<text class="ax" x="1139.0" y="941">6 Oct 16:00</text>
<rect x="1204" y="929" width="1" height="4" fill="#000"/>
<text class="ax" x="1203.0" y="941">8 Oct 00:00</text>
<rect x="1268" y="929" width="1" height="4" fill="#000"/>
<text class="ax" x="1267.0" y="941">11 Oct 08:00</text>
<rect x="1332" y="929" width="1" height="4" fill="#000"/>
<text class="ax" x="1331.0" y="941">12 Oct 16:00</text>
<rect x="1396" y="929" width="1" height="4" fill="#000"/>
<text class="ax" x="1395.0" y="941">14 Oct 00:00</text>
<text class="ax" x="3.4" y="38.9" xml:space="preserve" textLength="200.4" lengthAdjust="spacingAndGlyphs">USDJPY-,H4  113.636 113.691 113.636 113.665</text>
<text class="ax" x="-7.9" y="595.2" textLength="127.6" lengthAdjust="spacingAndGlyphs">MACD(12,26,9) 0.3107 0.3655</text>
<text class="ax" x="-7.2" y="766.9" textLength="67.2" lengthAdjust="spacingAndGlyphs">RSI(14) 67.6524</text>
<path d="M1441.5 28 L1451.5 28 L1446.5 33 Z" fill="#b4b4b4"/>
<rect x="557.5" y="539.5" width="61.0" height="18.0" fill="#fff" stroke="#ff0000" stroke-width="1"/>
<text x="559.7" y="554.6" font-family="Liberation Serif,serif" font-size="17.2" fill="#ff0000" stroke="#ff0000" stroke-width="0.08" textLength="57.6" lengthAdjust="spacingAndGlyphs">109.112</text>
<path d="M618.5 548.5 H628.5 V545" stroke="#ff0000" fill="none"/>
<rect x="861.5" y="237.5" width="61.0" height="18.0" fill="#fff" stroke="#ff0000" stroke-width="1"/>
<text x="863.7" y="252.6" font-family="Liberation Serif,serif" font-size="17.2" fill="#ff0000" stroke="#ff0000" stroke-width="0.08" textLength="57.6" lengthAdjust="spacingAndGlyphs">112.073</text>
<path d="M922.5 246.5 H932.5 V250" stroke="#ff0000" fill="none"/>
<rect x="965.5" y="366.5" width="61.0" height="18.0" fill="#fff" stroke="#ff0000" stroke-width="1"/>
<text x="967.7" y="381.6" font-family="Liberation Serif,serif" font-size="17.2" fill="#ff0000" stroke="#ff0000" stroke-width="0.08" textLength="57.6" lengthAdjust="spacingAndGlyphs">110.810</text>
<path d="M1026.5 375.5 H1036.5 V362" stroke="#ff0000" fill="none"/>
<rect x="1301.5" y="63.5" width="61.0" height="18.0" fill="#fff" stroke="#ff0000" stroke-width="1"/>
<text x="1303.7" y="78.6" font-family="Liberation Serif,serif" font-size="17.2" fill="#ff0000" stroke="#ff0000" stroke-width="0.08" textLength="57.6" lengthAdjust="spacingAndGlyphs">113.783</text>
<path d="M1362.5 72.5 H1372.5" stroke="#ff0000" fill="none"/>
<path d="M1125 95.5 H1132" stroke="#ff0000" fill="none"/>
<rect x="1131.5" y="93.5" width="3" height="3" fill="#fff" stroke="#ff0000"/>
<rect x="1135.5" y="83.5" width="73" height="24" fill="#fff" stroke="#ff0000" stroke-width="1"/>
<text x="1137.4" y="103.9" font-family="Liberation Sans,sans-serif" font-size="22.6" fill="#ff0000" stroke="#ff0000" stroke-width="0.3" textLength="70.2" lengthAdjust="spacingAndGlyphs">113.554</text>
<g fill="#000" shape-rendering="crispEdges"><rect x="4" y="451" width="1" height="28"/><rect x="2" y="457" width="5" height="6"/><rect x="3" y="458" width="3" height="4" fill="#fff"/><rect x="12" y="453" width="1" height="13"/><rect x="10" y="455" width="5" height="3"/><rect x="11" y="456" width="3" height="1" fill="#fff"/><rect x="20" y="454" width="1" height="14"/><rect x="18" y="455" width="5" height="8"/><rect x="28" y="461" width="1" height="40"/><rect x="26" y="463" width="5" height="32"/><rect x="36" y="493" width="1" height="7"/><rect x="34" y="494" width="5" height="3"/><rect x="44" y="480" width="1" height="6"/><rect x="42" y="480" width="5" height="3"/><rect x="43" y="481" width="3" height="1" fill="#fff"/><rect x="52" y="474" width="1" height="11"/><rect x="50" y="476" width="5" height="4"/><rect x="51" y="477" width="3" height="2" fill="#fff"/><rect x="60" y="463" width="1" height="19"/><rect x="58" y="469" width="5" height="6"/><rect x="59" y="470" width="3" height="4" fill="#fff"/><rect x="68" y="465" width="1" height="10"/><rect x="66" y="468" width="5" height="6"/><rect x="76" y="471" width="1" height="6"/><rect x="74" y="473" width="5" height="1"/><rect x="84" y="472" width="1" height="4"/><rect x="82" y="473" width="5" height="2"/><rect x="92" y="472" width="1" height="6"/><rect x="90" y="474" width="5" height="3"/><rect x="100" y="474" width="1" height="17"/><rect x="98" y="476" width="5" height="2"/><rect x="108" y="462" width="1" height="20"/><rect x="106" y="468" width="5" height="10"/><rect x="107" y="469" width="3" height="8" fill="#fff"/><rect x="116" y="453" width="1" height="16"/><rect x="114" y="455" width="5" height="13"/><rect x="115" y="456" width="3" height="11" fill="#fff"/><rect x="124" y="432" width="1" height="25"/><rect x="122" y="440" width="5" height="16"/><rect x="123" y="441" width="3" height="14" fill="#fff"/><rect x="132" y="426" width="1" height="18"/><rect x="130" y="429" width="5" height="11"/><rect x="131" y="430" width="3" height="9" fill="#fff"/><rect x="140" y="425" width="1" height="9"/><rect x="138" y="428" width="5" height="1"/><rect x="148" y="424" width="1" height="9"/><rect x="146" y="428" width="5" height="1"/><rect x="156" y="412" width="1" height="29"/><rect x="154" y="429" width="5" height="5"/><rect x="164" y="426" width="1" height="18"/><rect x="162" y="429" width="5" height="4"/><rect x="163" y="430" width="3" height="2" fill="#fff"/><rect x="172" y="418" width="1" height="26"/><rect x="170" y="426" width="5" height="3"/><rect x="171" y="427" width="3" height="1" fill="#fff"/><rect x="180" y="423" width="1" height="17"/><rect x="178" y="425" width="5" height="8"/><rect x="188" y="430" width="1" height="6"/><rect x="186" y="431" width="5" height="5"/><rect x="196" y="430" width="1" height="19"/><rect x="194" y="435" width="5" height="4"/><rect x="204" y="437" width="1" height="32"/><rect x="202" y="438" width="5" height="26"/><rect x="212" y="462" width="1" height="11"/><rect x="210" y="463" width="5" height="10"/><rect x="220" y="462" width="1" height="22"/><rect x="218" y="472" width="5" height="11"/><rect x="228" y="480" width="1" height="17"/><rect x="226" y="482" width="5" height="8"/><rect x="236" y="477" width="1" height="16"/><rect x="234" y="481" width="5" height="9"/><rect x="235" y="482" width="3" height="7" fill="#fff"/><rect x="244" y="471" width="1" height="19"/><rect x="242" y="471" width="5" height="10"/><rect x="243" y="472" width="3" height="8" fill="#fff"/><rect x="252" y="459" width="1" height="15"/><rect x="250" y="464" width="5" height="7"/><rect x="251" y="465" width="3" height="5" fill="#fff"/><rect x="260" y="460" width="1" height="13"/><rect x="258" y="463" width="5" height="9"/><rect x="268" y="463" width="1" height="16"/><rect x="266" y="465" width="5" height="6"/><rect x="267" y="466" width="3" height="4" fill="#fff"/><rect x="276" y="463" width="1" height="7"/><rect x="274" y="465" width="5" height="4"/><rect x="284" y="465" width="1" height="8"/><rect x="282" y="466" width="5" height="5"/><rect x="283" y="467" width="3" height="3" fill="#fff"/><rect x="292" y="460" width="1" height="9"/><rect x="290" y="463" width="5" height="4"/><rect x="291" y="464" width="3" height="2" fill="#fff"/><rect x="300" y="442" width="1" height="24"/><rect x="298" y="450" width="5" height="13"/><rect x="299" y="451" width="3" height="11" fill="#fff"/><rect x="308" y="444" width="1" height="6"/><rect x="306" y="448" width="5" height="2"/><rect x="316" y="447" width="1" height="21"/><rect x="314" y="448" width="5" height="15"/><rect x="324" y="455" width="1" height="9"/><rect x="322" y="457" width="5" height="5"/><rect x="323" y="458" width="3" height="3" fill="#fff"/><rect x="332" y="455" width="1" height="10"/><rect x="330" y="458" width="5" height="1"/><rect x="340" y="447" width="1" height="15"/><rect x="338" y="452" width="5" height="6"/><rect x="339" y="453" width="3" height="4" fill="#fff"/><rect x="348" y="448" width="1" height="16"/><rect x="346" y="452" width="5" height="6"/><rect x="356" y="441" width="1" height="19"/><rect x="354" y="446" width="5" height="11"/><rect x="355" y="447" width="3" height="9" fill="#fff"/><rect x="364" y="444" width="1" height="56"/><rect x="362" y="446" width="5" height="47"/><rect x="372" y="488" width="1" height="19"/><rect x="370" y="492" width="5" height="2"/><rect x="380" y="484" width="1" height="11"/><rect x="378" y="488" width="5" height="6"/><rect x="379" y="489" width="3" height="4" fill="#fff"/><rect x="388" y="484" width="1" height="21"/><rect x="386" y="487" width="5" height="11"/><rect x="396" y="494" width="1" height="24"/><rect x="394" y="497" width="5" height="19"/><rect x="404" y="512" width="1" height="26"/><rect x="402" y="515" width="5" height="21"/><rect x="412" y="516" width="1" height="33"/><rect x="410" y="519" width="5" height="17"/><rect x="411" y="520" width="3" height="15" fill="#fff"/><rect x="420" y="514" width="1" height="11"/><rect x="418" y="519" width="5" height="5"/><rect x="428" y="521" width="1" height="8"/><rect x="426" y="521" width="5" height="3"/><rect x="427" y="522" width="3" height="1" fill="#fff"/><rect x="436" y="513" width="1" height="25"/><rect x="434" y="521" width="5" height="10"/><rect x="444" y="522" width="1" height="17"/><rect x="442" y="524" width="5" height="6"/><rect x="443" y="525" width="3" height="4" fill="#fff"/><rect x="452" y="516" width="1" height="13"/><rect x="450" y="520" width="5" height="4"/><rect x="451" y="521" width="3" height="2" fill="#fff"/><rect x="460" y="476" width="1" height="47"/><rect x="458" y="492" width="5" height="27"/><rect x="459" y="493" width="3" height="25" fill="#fff"/><rect x="468" y="486" width="1" height="7"/><rect x="466" y="488" width="5" height="4"/><rect x="467" y="489" width="3" height="2" fill="#fff"/><rect x="476" y="483" width="1" height="8"/><rect x="474" y="488" width="5" height="2"/><rect x="484" y="466" width="1" height="27"/><rect x="482" y="474" width="5" height="16"/><rect x="483" y="475" width="3" height="14" fill="#fff"/><rect x="492" y="463" width="1" height="15"/><rect x="490" y="463" width="5" height="11"/><rect x="491" y="464" width="3" height="9" fill="#fff"/><rect x="500" y="458" width="1" height="10"/><rect x="498" y="459" width="5" height="4"/><rect x="499" y="460" width="3" height="2" fill="#fff"/><rect x="508" y="450" width="1" height="22"/><rect x="506" y="459" width="5" height="5"/><rect x="516" y="458" width="1" height="9"/><rect x="514" y="464" width="5" height="3"/><rect x="524" y="459" width="1" height="3"/><rect x="522" y="460" width="5" height="2"/><rect x="532" y="454" width="1" height="19"/><rect x="530" y="460" width="5" height="6"/><rect x="540" y="464" width="1" height="22"/><rect x="538" y="465" width="5" height="18"/><rect x="548" y="481" width="1" height="29"/><rect x="546" y="482" width="5" height="25"/><rect x="556" y="494" width="1" height="23"/><rect x="554" y="507" width="5" height="6"/><rect x="564" y="511" width="1" height="17"/><rect x="562" y="511" width="5" height="12"/><rect x="572" y="513" width="1" height="13"/><rect x="570" y="515" width="5" height="8"/><rect x="571" y="516" width="3" height="6" fill="#fff"/><rect x="580" y="495" width="1" height="25"/><rect x="578" y="496" width="5" height="19"/><rect x="579" y="497" width="3" height="17" fill="#fff"/><rect x="588" y="488" width="1" height="22"/><rect x="586" y="495" width="5" height="2"/><rect x="596" y="490" width="1" height="34"/><rect x="594" y="495" width="5" height="25"/><rect x="604" y="512" width="1" height="30"/><rect x="602" y="519" width="5" height="8"/><rect x="612" y="524" width="1" height="18"/><rect x="610" y="526" width="5" height="14"/><rect x="620" y="534" width="1" height="13"/><rect x="618" y="539" width="5" height="6"/><rect x="628" y="510" width="1" height="39"/><rect x="626" y="511" width="5" height="33"/><rect x="627" y="512" width="3" height="31" fill="#fff"/><rect x="636" y="498" width="1" height="21"/><rect x="634" y="512" width="5" height="4"/><rect x="644" y="503" width="1" height="13"/><rect x="642" y="506" width="5" height="10"/><rect x="643" y="507" width="3" height="8" fill="#fff"/><rect x="652" y="494" width="1" height="16"/><rect x="650" y="499" width="5" height="8"/><rect x="651" y="500" width="3" height="6" fill="#fff"/><rect x="660" y="468" width="1" height="39"/><rect x="658" y="481" width="5" height="18"/><rect x="659" y="482" width="3" height="16" fill="#fff"/><rect x="668" y="475" width="1" height="7"/><rect x="666" y="476" width="5" height="4"/><rect x="667" y="477" width="3" height="2" fill="#fff"/><rect x="676" y="466" width="1" height="13"/><rect x="674" y="476" width="5" height="2"/><rect x="684" y="459" width="1" height="20"/><rect x="682" y="463" width="5" height="15"/><rect x="683" y="464" width="3" height="13" fill="#fff"/><rect x="692" y="453" width="1" height="30"/><rect x="690" y="455" width="5" height="8"/><rect x="691" y="456" width="3" height="6" fill="#fff"/><rect x="700" y="437" width="1" height="29"/><rect x="698" y="440" width="5" height="15"/><rect x="699" y="441" width="3" height="13" fill="#fff"/><rect x="708" y="428" width="1" height="16"/><rect x="706" y="431" width="5" height="9"/><rect x="707" y="432" width="3" height="7" fill="#fff"/><rect x="716" y="422" width="1" height="11"/><rect x="714" y="425" width="5" height="7"/><rect x="715" y="426" width="3" height="5" fill="#fff"/><rect x="724" y="413" width="1" height="14"/><rect x="722" y="415" width="5" height="11"/><rect x="723" y="416" width="3" height="9" fill="#fff"/><rect x="732" y="400" width="1" height="19"/><rect x="730" y="410" width="5" height="6"/><rect x="731" y="411" width="3" height="4" fill="#fff"/><rect x="740" y="401" width="1" height="26"/><rect x="738" y="405" width="5" height="5"/><rect x="739" y="406" width="3" height="3" fill="#fff"/><rect x="748" y="382" width="1" height="29"/><rect x="746" y="385" width="5" height="18"/><rect x="747" y="386" width="3" height="16" fill="#fff"/><rect x="756" y="377" width="1" height="14"/><rect x="754" y="378" width="5" height="7"/><rect x="755" y="379" width="3" height="5" fill="#fff"/><rect x="764" y="377" width="1" height="7"/><rect x="762" y="377" width="5" height="3"/><rect x="772" y="376" width="1" height="28"/><rect x="770" y="380" width="5" height="20"/><rect x="780" y="379" width="1" height="24"/><rect x="778" y="379" width="5" height="22"/><rect x="779" y="380" width="3" height="20" fill="#fff"/><rect x="788" y="350" width="1" height="36"/><rect x="786" y="353" width="5" height="26"/><rect x="787" y="354" width="3" height="24" fill="#fff"/><rect x="796" y="353" width="1" height="26"/><rect x="794" y="353" width="5" height="8"/><rect x="804" y="353" width="1" height="12"/><rect x="802" y="356" width="5" height="5"/><rect x="803" y="357" width="3" height="3" fill="#fff"/><rect x="812" y="354" width="1" height="9"/><rect x="810" y="356" width="5" height="5"/><rect x="820" y="332" width="1" height="32"/><rect x="818" y="334" width="5" height="27"/><rect x="819" y="335" width="3" height="25" fill="#fff"/><rect x="828" y="313" width="1" height="32"/><rect x="826" y="332" width="5" height="3"/><rect x="827" y="333" width="3" height="1" fill="#fff"/><rect x="836" y="309" width="1" height="31"/><rect x="834" y="312" width="5" height="20"/><rect x="835" y="313" width="3" height="18" fill="#fff"/><rect x="844" y="291" width="1" height="42"/><rect x="842" y="311" width="5" height="12"/><rect x="852" y="293" width="1" height="31"/><rect x="850" y="308" width="5" height="15"/><rect x="851" y="309" width="3" height="13" fill="#fff"/><rect x="860" y="297" width="1" height="14"/><rect x="858" y="302" width="5" height="8"/><rect x="859" y="303" width="3" height="6" fill="#fff"/><rect x="868" y="286" width="1" height="36"/><rect x="866" y="303" width="5" height="11"/><rect x="876" y="299" width="1" height="30"/><rect x="874" y="313" width="5" height="14"/><rect x="884" y="310" width="1" height="26"/><rect x="882" y="315" width="5" height="12"/><rect x="883" y="316" width="3" height="10" fill="#fff"/><rect x="892" y="262" width="1" height="55"/><rect x="890" y="272" width="5" height="44"/><rect x="891" y="273" width="3" height="42" fill="#fff"/><rect x="900" y="249" width="1" height="25"/><rect x="898" y="260" width="5" height="13"/><rect x="899" y="261" width="3" height="11" fill="#fff"/><rect x="908" y="253" width="1" height="9"/><rect x="906" y="258" width="5" height="4"/><rect x="916" y="260" width="1" height="16"/><rect x="914" y="261" width="5" height="4"/><rect x="924" y="248" width="1" height="24"/><rect x="922" y="263" width="5" height="5"/><rect x="932" y="246" width="1" height="28"/><rect x="930" y="255" width="5" height="13"/><rect x="931" y="256" width="3" height="11" fill="#fff"/><rect x="940" y="253" width="1" height="62"/><rect x="938" y="256" width="5" height="49"/><rect x="948" y="303" width="1" height="25"/><rect x="946" y="304" width="5" height="23"/><rect x="956" y="308" width="1" height="25"/><rect x="954" y="308" width="5" height="20"/><rect x="955" y="309" width="3" height="18" fill="#fff"/><rect x="964" y="306" width="1" height="36"/><rect x="962" y="309" width="5" height="32"/><rect x="972" y="326" width="1" height="26"/><rect x="970" y="331" width="5" height="9"/><rect x="971" y="332" width="3" height="7" fill="#fff"/><rect x="980" y="328" width="1" height="24"/><rect x="978" y="330" width="5" height="11"/><rect x="988" y="335" width="1" height="32"/><rect x="986" y="340" width="5" height="20"/><rect x="996" y="350" width="1" height="12"/><rect x="994" y="351" width="5" height="8"/><rect x="995" y="352" width="3" height="6" fill="#fff"/><rect x="1004" y="356" width="1" height="9"/><rect x="1002" y="356" width="5" height="6"/><rect x="1012" y="344" width="1" height="25"/><rect x="1010" y="351" width="5" height="9"/><rect x="1011" y="352" width="3" height="7" fill="#fff"/><rect x="1020" y="336" width="1" height="24"/><rect x="1018" y="340" width="5" height="10"/><rect x="1019" y="341" width="3" height="8" fill="#fff"/><rect x="1028" y="325" width="1" height="26"/><rect x="1026" y="339" width="5" height="10"/><rect x="1036" y="332" width="1" height="43"/><rect x="1034" y="348" width="5" height="14"/><rect x="1044" y="356" width="1" height="18"/><rect x="1042" y="362" width="5" height="2"/><rect x="1052" y="356" width="1" height="12"/><rect x="1050" y="360" width="5" height="4"/><rect x="1051" y="361" width="3" height="2" fill="#fff"/><rect x="1060" y="337" width="1" height="33"/><rect x="1058" y="339" width="5" height="21"/><rect x="1059" y="340" width="3" height="19" fill="#fff"/><rect x="1068" y="330" width="1" height="18"/><rect x="1066" y="339" width="5" height="9"/><rect x="1076" y="324" width="1" height="26"/><rect x="1074" y="334" width="5" height="14"/><rect x="1075" y="335" width="3" height="12" fill="#fff"/><rect x="1084" y="299" width="1" height="44"/><rect x="1082" y="316" width="5" height="18"/><rect x="1083" y="317" width="3" height="16" fill="#fff"/><rect x="1092" y="303" width="1" height="14"/><rect x="1090" y="310" width="5" height="7"/><rect x="1091" y="311" width="3" height="5" fill="#fff"/><rect x="1100" y="304" width="1" height="7"/><rect x="1098" y="307" width="5" height="3"/><rect x="1099" y="308" width="3" height="1" fill="#fff"/><rect x="1108" y="289" width="1" height="18"/><rect x="1106" y="292" width="5" height="15"/><rect x="1107" y="293" width="3" height="13" fill="#fff"/><rect x="1116" y="276" width="1" height="21"/><rect x="1114" y="288" width="5" height="5"/><rect x="1115" y="289" width="3" height="3" fill="#fff"/><rect x="1124" y="287" width="1" height="35"/><rect x="1122" y="288" width="5" height="31"/><rect x="1132" y="312" width="1" height="25"/><rect x="1130" y="319" width="5" height="3"/><rect x="1140" y="305" width="1" height="20"/><rect x="1138" y="318" width="5" height="4"/><rect x="1139" y="319" width="3" height="2" fill="#fff"/><rect x="1148" y="311" width="1" height="8"/><rect x="1146" y="314" width="5" height="4"/><rect x="1147" y="315" width="3" height="2" fill="#fff"/><rect x="1156" y="305" width="1" height="20"/><rect x="1154" y="314" width="5" height="1"/><rect x="1164" y="304" width="1" height="30"/><rect x="1162" y="313" width="5" height="14"/><rect x="1172" y="302" width="1" height="28"/><rect x="1170" y="321" width="5" height="6"/><rect x="1171" y="322" width="3" height="4" fill="#fff"/><rect x="1180" y="302" width="1" height="23"/><rect x="1178" y="305" width="5" height="16"/><rect x="1179" y="306" width="3" height="14" fill="#fff"/><rect x="1188" y="291" width="1" height="17"/><rect x="1186" y="297" width="5" height="9"/><rect x="1187" y="298" width="3" height="7" fill="#fff"/><rect x="1196" y="287" width="1" height="10"/><rect x="1194" y="289" width="5" height="7"/><rect x="1195" y="290" width="3" height="5" fill="#fff"/><rect x="1204" y="265" width="1" height="25"/><rect x="1202" y="269" width="5" height="19"/><rect x="1203" y="270" width="3" height="17" fill="#fff"/><rect x="1212" y="254" width="1" height="18"/><rect x="1210" y="258" width="5" height="13"/><rect x="1211" y="259" width="3" height="11" fill="#fff"/><rect x="1220" y="254" width="1" height="32"/><rect x="1218" y="258" width="5" height="23"/><rect x="1228" y="236" width="1" height="69"/><rect x="1226" y="238" width="5" height="42"/><rect x="1227" y="239" width="3" height="40" fill="#fff"/><rect x="1236" y="231" width="1" height="11"/><rect x="1234" y="235" width="5" height="5"/><rect x="1235" y="236" width="3" height="3" fill="#fff"/><rect x="1244" y="224" width="1" height="7"/><rect x="1242" y="226" width="5" height="2"/><rect x="1252" y="180" width="1" height="57"/><rect x="1250" y="184" width="5" height="43"/><rect x="1251" y="185" width="3" height="41" fill="#fff"/><rect x="1260" y="168" width="1" height="24"/><rect x="1258" y="174" width="5" height="10"/><rect x="1259" y="175" width="3" height="8" fill="#fff"/><rect x="1268" y="149" width="1" height="26"/><rect x="1266" y="160" width="5" height="14"/><rect x="1267" y="161" width="3" height="12" fill="#fff"/><rect x="1276" y="114" width="1" height="51"/><rect x="1274" y="115" width="5" height="45"/><rect x="1275" y="116" width="3" height="43" fill="#fff"/><rect x="1284" y="110" width="1" height="15"/><rect x="1282" y="115" width="5" height="1"/><rect x="1292" y="110" width="1" height="17"/><rect x="1290" y="113" width="5" height="3"/><rect x="1291" y="114" width="3" height="1" fill="#fff"/><rect x="1300" y="103" width="1" height="29"/><rect x="1298" y="113" width="5" height="9"/><rect x="1308" y="117" width="1" height="36"/><rect x="1306" y="122" width="5" height="2"/><rect x="1316" y="109" width="1" height="18"/><rect x="1314" y="112" width="5" height="11"/><rect x="1315" y="113" width="3" height="9" fill="#fff"/><rect x="1324" y="72" width="1" height="45"/><rect x="1322" y="83" width="5" height="29"/><rect x="1323" y="84" width="3" height="27" fill="#fff"/><rect x="1332" y="81" width="1" height="15"/><rect x="1330" y="82" width="5" height="12"/><rect x="1340" y="87" width="1" height="12"/><rect x="1338" y="92" width="5" height="6"/><rect x="1348" y="94" width="1" height="24"/><rect x="1346" y="98" width="5" height="8"/><rect x="1356" y="90" width="1" height="22"/><rect x="1354" y="95" width="5" height="11"/><rect x="1355" y="96" width="3" height="9" fill="#fff"/><rect x="1364" y="90" width="1" height="14"/><rect x="1362" y="95" width="5" height="3"/><rect x="1372" y="71" width="1" height="59"/><rect x="1370" y="97" width="5" height="6"/><rect x="1380" y="101" width="1" height="28"/><rect x="1378" y="103" width="5" height="23"/><rect x="1388" y="119" width="1" height="12"/><rect x="1386" y="120" width="5" height="5"/><rect x="1387" y="121" width="3" height="3" fill="#fff"/><rect x="1396" y="93" width="1" height="31"/><rect x="1394" y="96" width="5" height="27"/><rect x="1395" y="97" width="3" height="25" fill="#fff"/><rect x="1404" y="92" width="1" height="26"/><rect x="1402" y="97" width="5" height="19"/><rect x="1412" y="107" width="1" height="18"/><rect x="1410" y="111" width="5" height="4"/><rect x="1411" y="112" width="3" height="2" fill="#fff"/><rect x="1420" y="80" width="1" height="34"/><rect x="1418" y="95" width="5" height="15"/><rect x="1419" y="96" width="3" height="13" fill="#fff"/><rect x="1428" y="81" width="1" height="23"/><rect x="1426" y="88" width="5" height="6"/><rect x="1427" y="89" width="3" height="4" fill="#fff"/><rect x="1436" y="81" width="1" height="7"/><rect x="1434" y="84" width="5" height="4"/><rect x="1435" y="85" width="3" height="2" fill="#fff"/></g>
<g fill="#c0c0c0"><rect x="4" y="705.2" width="1" height="2.5"/><rect x="12" y="705.2" width="1" height="2.5"/><rect x="20" y="706.6" width="1" height="1.0"/><rect x="28" y="707.6" width="1" height="4.2"/><rect x="36" y="707.6" width="1" height="9.2"/><rect x="44" y="707.6" width="1" height="10.4"/><rect x="52" y="707.6" width="1" height="10.4"/><rect x="60" y="707.6" width="1" height="9.4"/><rect x="68" y="707.6" width="1" height="9.2"/><rect x="76" y="707.6" width="1" height="7.9"/><rect x="84" y="707.6" width="1" height="7.9"/><rect x="92" y="707.6" width="1" height="7.9"/><rect x="100" y="707.6" width="1" height="8.2"/><rect x="108" y="707.6" width="1" height="7.4"/><rect x="116" y="707.6" width="1" height="3.2"/><rect x="124" y="706.6" width="1" height="1.0"/><rect x="132" y="701.0" width="1" height="6.7"/><rect x="140" y="696.0" width="1" height="11.7"/><rect x="148" y="692.8" width="1" height="14.9"/><rect x="156" y="690.8" width="1" height="16.9"/><rect x="164" y="689.0" width="1" height="18.6"/><rect x="172" y="687.1" width="1" height="20.6"/><rect x="180" y="687.1" width="1" height="20.6"/><rect x="188" y="687.8" width="1" height="19.8"/><rect x="196" y="689.0" width="1" height="18.6"/><rect x="204" y="694.0" width="1" height="13.6"/><rect x="212" y="700.2" width="1" height="7.4"/><rect x="220" y="706.4" width="1" height="1.2"/><rect x="228" y="707.6" width="1" height="3.2"/><rect x="236" y="707.6" width="1" height="6.9"/><rect x="244" y="707.6" width="1" height="7.9"/><rect x="252" y="707.6" width="1" height="7.9"/><rect x="260" y="707.6" width="1" height="7.9"/><rect x="268" y="707.6" width="1" height="6.9"/><rect x="276" y="707.6" width="1" height="6.7"/><rect x="284" y="707.6" width="1" height="6.9"/><rect x="292" y="707.6" width="1" height="6.2"/><rect x="300" y="707.6" width="1" height="3.2"/><rect x="308" y="706.6" width="1" height="1.0"/><rect x="316" y="706.6" width="1" height="1.0"/><rect x="324" y="706.6" width="1" height="1.0"/><rect x="332" y="706.6" width="1" height="1.0"/><rect x="340" y="706.6" width="1" height="1.0"/><rect x="348" y="706.6" width="1" height="1.0"/><rect x="356" y="705.2" width="1" height="2.5"/><rect x="364" y="707.6" width="1" height="1.7"/><rect x="372" y="707.6" width="1" height="6.9"/><rect x="380" y="707.6" width="1" height="9.9"/><rect x="388" y="707.6" width="1" height="12.9"/><rect x="396" y="707.6" width="1" height="19.1"/><rect x="404" y="707.6" width="1" height="27.3"/><rect x="412" y="707.6" width="1" height="30.2"/><rect x="420" y="707.6" width="1" height="32.2"/><rect x="428" y="707.6" width="1" height="34.0"/><rect x="436" y="707.6" width="1" height="36.0"/><rect x="444" y="707.6" width="1" height="36.0"/><rect x="452" y="707.6" width="1" height="35.2"/><rect x="460" y="707.6" width="1" height="29.8"/><rect x="468" y="707.6" width="1" height="24.0"/><rect x="476" y="707.6" width="1" height="18.6"/><rect x="484" y="707.6" width="1" height="13.1"/><rect x="492" y="707.6" width="1" height="6.2"/><rect x="500" y="706.6" width="1" height="1.0"/><rect x="508" y="704.9" width="1" height="2.7"/><rect x="516" y="701.9" width="1" height="5.7"/><rect x="524" y="699.0" width="1" height="8.7"/><rect x="532" y="698.0" width="1" height="9.7"/><rect x="540" y="700.2" width="1" height="7.4"/><rect x="548" y="705.2" width="1" height="2.5"/><rect x="556" y="707.6" width="1" height="1.2"/><rect x="564" y="707.6" width="1" height="7.4"/><rect x="572" y="707.6" width="1" height="9.9"/><rect x="580" y="707.6" width="1" height="9.9"/><rect x="588" y="707.6" width="1" height="9.2"/><rect x="596" y="707.6" width="1" height="12.4"/><rect x="604" y="707.6" width="1" height="16.1"/><rect x="612" y="707.6" width="1" height="19.8"/><rect x="620" y="707.6" width="1" height="24.8"/><rect x="628" y="707.6" width="1" height="21.8"/><rect x="636" y="707.6" width="1" height="21.1"/><rect x="644" y="707.6" width="1" height="17.9"/><rect x="652" y="707.6" width="1" height="14.4"/><rect x="660" y="707.6" width="1" height="7.9"/><rect x="668" y="707.6" width="1" height="2.0"/><rect x="676" y="706.6" width="1" height="1.0"/><rect x="684" y="701.0" width="1" height="6.7"/><rect x="692" y="696.0" width="1" height="11.7"/><rect x="700" y="689.0" width="1" height="18.6"/><rect x="708" y="682.1" width="1" height="25.5"/><rect x="716" y="675.9" width="1" height="31.7"/><rect x="724" y="670.0" width="1" height="37.7"/><rect x="732" y="665.0" width="1" height="42.6"/><rect x="740" y="661.0" width="1" height="46.6"/><rect x="748" y="654.8" width="1" height="52.8"/><rect x="756" y="648.9" width="1" height="58.8"/><rect x="764" y="646.2" width="1" height="61.5"/><rect x="772" y="648.1" width="1" height="59.5"/><rect x="780" y="646.2" width="1" height="61.5"/><rect x="788" y="641.2" width="1" height="66.4"/><rect x="796" y="639.0" width="1" height="68.7"/><rect x="804" y="638.2" width="1" height="69.4"/><rect x="812" y="638.2" width="1" height="69.4"/><rect x="820" y="635.0" width="1" height="72.6"/><rect x="828" y="633.3" width="1" height="74.4"/><rect x="836" y="629.0" width="1" height="78.6"/><rect x="844" y="627.8" width="1" height="79.8"/><rect x="852" y="627.1" width="1" height="80.6"/><rect x="860" y="625.1" width="1" height="82.6"/><rect x="868" y="627.1" width="1" height="80.6"/><rect x="876" y="630.8" width="1" height="76.9"/><rect x="884" y="632.8" width="1" height="74.9"/><rect x="892" y="629.0" width="1" height="78.6"/><rect x="900" y="624.1" width="1" height="83.6"/><rect x="908" y="622.1" width="1" height="85.5"/><rect x="916" y="620.9" width="1" height="86.8"/><rect x="924" y="622.9" width="1" height="84.8"/><rect x="932" y="622.9" width="1" height="84.8"/><rect x="940" y="632.0" width="1" height="75.6"/><rect x="948" y="642.7" width="1" height="65.0"/><rect x="956" y="650.1" width="1" height="57.5"/><rect x="964" y="661.8" width="1" height="45.9"/><rect x="972" y="668.7" width="1" height="38.9"/><rect x="980" y="676.7" width="1" height="31.0"/><rect x="988" y="687.1" width="1" height="20.6"/><rect x="996" y="694.0" width="1" height="13.6"/><rect x="1004" y="701.0" width="1" height="6.7"/><rect x="1012" y="704.9" width="1" height="2.7"/><rect x="1020" y="705.9" width="1" height="1.7"/><rect x="1036" y="707.6" width="1" height="3.0"/><rect x="1044" y="707.6" width="1" height="6.9"/><rect x="1052" y="707.6" width="1" height="9.2"/><rect x="1060" y="707.6" width="1" height="6.9"/><rect x="1068" y="707.6" width="1" height="6.9"/><rect x="1076" y="707.6" width="1" height="3.7"/><rect x="1084" y="707.6" width="1" height="1.0"/><rect x="1092" y="702.9" width="1" height="4.7"/><rect x="1100" y="699.0" width="1" height="8.7"/><rect x="1108" y="693.0" width="1" height="14.6"/><rect x="1116" y="688.1" width="1" height="19.6"/><rect x="1124" y="689.0" width="1" height="18.6"/><rect x="1132" y="691.0" width="1" height="16.6"/><rect x="1140" y="692.0" width="1" height="15.6"/><rect x="1148" y="692.0" width="1" height="15.6"/><rect x="1156" y="693.0" width="1" height="14.6"/><rect x="1164" y="695.0" width="1" height="12.6"/><rect x="1172" y="697.0" width="1" height="10.7"/><rect x="1180" y="695.0" width="1" height="12.6"/><rect x="1188" y="693.0" width="1" height="14.6"/><rect x="1196" y="689.0" width="1" height="18.6"/><rect x="1204" y="684.1" width="1" height="23.6"/><rect x="1212" y="679.1" width="1" height="28.5"/><rect x="1220" y="677.9" width="1" height="29.8"/><rect x="1228" y="671.0" width="1" height="36.7"/><rect x="1236" y="665.0" width="1" height="42.6"/><rect x="1244" y="660.0" width="1" height="47.6"/><rect x="1252" y="648.9" width="1" height="58.8"/><rect x="1260" y="640.0" width="1" height="67.7"/><rect x="1268" y="631.0" width="1" height="76.6"/><rect x="1276" y="617.1" width="1" height="90.5"/><rect x="1284" y="608.0" width="1" height="99.7"/><rect x="1292" y="601.0" width="1" height="106.6"/><rect x="1300" y="599.0" width="1" height="108.6"/><rect x="1308" y="598.1" width="1" height="109.6"/><rect x="1316" y="597.1" width="1" height="110.6"/><rect x="1324" y="593.1" width="1" height="114.5"/><rect x="1332" y="592.4" width="1" height="115.3"/><rect x="1340" y="594.1" width="1" height="113.6"/><rect x="1348" y="597.3" width="1" height="110.3"/><rect x="1356" y="599.8" width="1" height="107.9"/><rect x="1364" y="604.0" width="1" height="103.6"/><rect x="1372" y="609.0" width="1" height="98.7"/><rect x="1380" y="618.4" width="1" height="89.3"/><rect x="1388" y="627.1" width="1" height="80.6"/><rect x="1396" y="632.0" width="1" height="75.6"/><rect x="1404" y="637.0" width="1" height="70.7"/><rect x="1412" y="639.5" width="1" height="68.2"/><rect x="1420" y="639.5" width="1" height="68.2"/><rect x="1428" y="640.7" width="1" height="66.9"/><rect x="1436" y="641.4" width="1" height="66.2"/></g>
<path d="M0.0 698.2 C2.5 698.6 9.9 699.9 14.9 700.7 C19.8 701.5 24.8 702.0 29.8 703.2 C34.7 704.3 39.7 706.4 44.6 707.6 C49.6 708.9 54.5 709.8 59.5 710.9 C64.5 711.9 69.4 713.0 74.4 713.8 C79.3 714.7 84.3 715.2 89.3 715.8 C94.2 716.4 99.2 717.5 104.1 717.6 C109.1 717.6 114.0 717.0 119.0 716.3 C124.0 715.6 128.9 714.8 133.9 713.3 C138.8 711.9 143.8 709.5 148.8 707.6 C153.7 705.7 158.7 703.8 163.6 701.9 C168.6 700.1 173.6 698.2 178.5 696.5 C183.5 694.8 188.8 692.7 193.4 691.5 C197.9 690.4 202.1 689.8 205.8 689.5 C209.5 689.3 212.0 689.6 215.7 690.3 C219.4 691.0 223.6 691.9 228.1 693.5 C232.6 695.1 238.0 697.8 243.0 699.7 C247.9 701.7 252.9 703.2 257.9 705.2 C262.8 707.1 267.8 709.8 272.7 711.4 C277.7 712.9 283.5 713.6 287.6 714.3 C291.7 715.0 293.4 715.7 297.5 715.6 C301.7 715.5 307.4 714.5 312.4 713.8 C317.4 713.2 322.3 712.5 327.3 711.9 C332.2 711.2 337.2 710.7 342.1 710.1 C347.1 709.5 352.9 708.8 357.0 708.4 C361.2 708.0 362.8 707.4 366.9 707.6 C371.1 707.9 376.9 708.8 381.8 709.6 C386.8 710.5 392.6 711.3 396.7 712.6 C400.8 713.9 404.4 716.7 406.6 717.6 C408.8 718.5 407.8 717.1 410.0 718.1 C412.2 719.0 415.8 720.9 419.9 723.0 C424.0 725.1 430.7 728.9 434.8 730.7 C438.9 732.5 441.8 732.5 444.7 733.7 C447.6 734.9 448.4 736.9 452.1 737.9 C455.9 738.8 461.7 739.5 467.0 739.4 C472.4 739.2 479.0 738.3 484.4 736.9 C489.8 735.5 494.3 733.2 499.3 730.7 C504.2 728.2 508.3 725.4 514.1 722.0 C519.9 718.7 528.2 713.4 534.0 710.6 C539.8 707.8 543.9 706.2 548.8 705.2 C553.8 704.1 558.8 704.3 563.7 704.4 C568.7 704.5 574.5 705.4 578.6 705.9 C582.7 706.4 584.8 706.3 588.5 707.6 C592.2 709.0 596.8 712.3 600.9 713.8 C605.0 715.4 609.2 715.5 613.3 717.1 C617.4 718.6 620.7 721.7 625.7 723.0 C630.7 724.4 636.9 724.9 643.1 725.2 C649.3 725.6 657.5 725.5 662.9 725.0 C668.3 724.5 670.7 724.0 675.3 722.5 C679.8 721.1 685.6 718.6 690.2 716.3 C694.7 714.0 698.0 711.8 702.6 708.9 C707.1 706.0 712.5 702.5 717.4 699.0 C722.4 695.5 727.4 691.5 732.3 687.8 C737.3 684.1 742.2 680.3 747.2 676.7 C752.1 673.0 756.3 669.4 762.1 666.0 C767.9 662.6 776.1 659.2 781.9 656.3 C787.7 653.4 791.8 650.7 796.8 648.6 C801.7 646.5 807.8 644.8 811.7 643.7 C815.5 642.6 816.1 642.9 820.0 641.9 C823.9 641.0 829.5 639.7 834.9 638.2 C840.2 636.8 845.6 634.7 852.2 633.3 C858.8 631.8 867.5 630.4 874.5 629.5 C881.6 628.7 889.0 628.8 894.4 628.3 C899.8 627.8 901.8 627.1 906.8 626.6 C911.7 626.1 918.8 625.5 924.1 625.3 C929.5 625.1 934.0 624.8 939.0 625.3 C944.0 625.8 948.9 626.8 953.9 628.3 C958.8 629.8 964.2 632.0 968.8 634.5 C973.3 637.0 977.0 639.7 981.2 643.2 C985.3 646.7 989.4 651.4 993.6 655.6 C997.7 659.7 1001.8 664.0 1006.0 668.0 C1010.1 671.9 1014.2 675.5 1018.3 679.1 C1022.5 682.7 1026.6 686.2 1030.7 689.5 C1034.9 692.9 1039.0 696.4 1043.1 699.0 C1047.3 701.6 1051.4 703.4 1055.5 705.2 C1059.7 706.9 1063.0 708.5 1067.9 709.6 C1072.9 710.8 1079.9 712.0 1085.3 712.1 C1090.7 712.2 1095.6 711.0 1100.2 710.1 C1104.7 709.3 1108.0 708.4 1112.6 706.9 C1117.1 705.4 1122.5 702.9 1127.4 701.0 C1132.4 699.0 1137.8 696.7 1142.3 695.2 C1146.9 693.8 1149.8 692.9 1154.7 692.3 C1159.7 691.7 1166.7 691.5 1172.1 691.5 C1177.4 691.5 1182.0 692.3 1186.9 692.3 C1191.9 692.3 1196.9 692.1 1201.8 691.5 C1206.8 691.0 1212.1 690.1 1216.7 689.0 C1221.2 688.0 1224.8 687.2 1229.1 685.3 C1233.4 683.5 1238.1 680.2 1242.4 677.9 C1246.7 675.5 1250.7 673.9 1254.8 671.2 C1258.9 668.5 1263.1 665.4 1267.2 661.8 C1271.3 658.1 1275.0 653.9 1279.6 649.4 C1284.1 644.8 1289.5 639.3 1294.5 634.5 C1299.4 629.8 1304.4 625.2 1309.3 620.9 C1314.3 616.5 1319.7 612.0 1324.2 608.5 C1328.8 605.0 1332.5 601.7 1336.6 599.8 C1340.7 597.9 1344.0 597.4 1349.0 596.8 C1354.0 596.3 1361.0 596.1 1366.4 596.6 C1371.7 597.1 1376.3 598.2 1381.2 599.8 C1386.2 601.4 1391.6 603.7 1396.1 606.0 C1400.7 608.3 1404.0 610.7 1408.5 613.4 C1413.1 616.1 1418.8 619.6 1423.4 622.1 C1427.9 624.6 1433.7 627.3 1435.8 628.3" fill="none" stroke="#ff0000" stroke-width="1" stroke-dasharray="2.6 3"/>
<path d="M0 790.5 H1647" stroke="#c0c0c0" stroke-width="1" stroke-dasharray="3 3" fill="none"/>
<path d="M0 841.5 H1647" stroke="#c0c0c0" stroke-width="1" stroke-dasharray="3 3" fill="none"/>
<path d="M0 902.5 H1647" stroke="#c0c0c0" stroke-width="1" stroke-dasharray="3 3" fill="none"/>
<path d="M0.0 843.7 L5.0 840.0 L11.2 838.8 L19.8 845.5 L28.5 867.0 L36.4 868.5 L44.1 853.4 L52.1 850.4 L60.2 844.2 L68.2 847.4 L74.4 848.4 L85.5 848.4 L100.4 852.1 L108.3 841.7 L116.5 830.6 L124.0 821.2 L132.6 813.5 L148.0 813.5 L156.7 818.7 L163.6 815.7 L172.3 813.2 L180.2 821.9 L188.4 825.6 L196.6 829.3 L204.5 854.1 L212.5 859.1 L220.7 865.3 L228.1 870.5 L236.8 861.6 L244.2 852.4 L252.4 845.5 L260.3 851.2 L268.3 845.5 L276.4 848.4 L284.4 846.7 L292.6 843.5 L300.5 831.1 L308.2 830.1 L316.1 844.2 L324.3 839.3 L332.2 840.5 L340.4 834.3 L348.3 840.0 L356.3 830.6 L364.5 863.6 L372.4 863.3 L380.6 858.3 L388.5 864.0 L396.7 872.2 L404.6 880.2 L412.5 866.0 L420.4 868.3 L428.3 866.0 L436.5 870.2 L444.5 864.5 L452.4 861.6 L460.3 841.0 L468.5 838.8 L476.4 840.5 L484.4 830.6 L492.3 825.6 L500.5 822.1 L508.4 826.4 L516.4 828.3 L524.3 825.1 L532.5 829.3 L540.4 843.0 L548.3 857.1 L556.3 860.3 L564.5 865.3 L572.4 859.1 L580.3 846.2 L588.3 845.0 L596.4 859.1 L604.4 862.3 L612.3 868.5 L620.2 870.2 L628.4 847.2 L636.4 849.7 L644.3 843.0 L652.5 838.5 L660.4 829.3 L668.3 827.4 L676.3 828.6 L684.5 820.7 L692.4 816.4 L700.3 810.7 L708.3 807.0 L716.4 805.0 L724.4 802.1 L732.3 800.3 L740.2 798.3 L748.4 792.6 L756.4 789.7 L764.3 793.4 L772.2 812.0 L780.4 804.0 L788.3 797.1 L796.3 802.1 L804.2 801.3 L812.4 804.5 L820.5 796.4 L828.4 795.1 L836.4 790.9 L844.5 799.6 L852.5 796.4 L860.4 794.6 L868.3 803.3 L876.5 813.2 L884.5 809.0 L892.4 797.6 L900.3 794.6 L908.5 795.9 L916.4 798.3 L924.4 801.3 L932.3 797.1 L940.5 829.8 L948.4 840.0 L956.4 833.6 L964.3 846.2 L972.5 842.2 L980.4 846.2 L988.3 852.9 L996.3 849.2 L1004.5 853.1 L1012.4 848.4 L1020.3 843.5 L1028.3 847.2 L1036.4 852.1 L1044.4 854.4 L1052.3 851.2 L1060.5 840.5 L1068.4 844.2 L1076.4 836.8 L1084.3 830.6 L1092.5 827.4 L1100.4 825.1 L1108.3 819.9 L1116.3 818.2 L1124.5 836.3 L1132.4 838.3 L1140.3 836.3 L1148.3 834.5 L1156.4 834.5 L1164.4 842.2 L1172.3 839.3 L1180.2 830.6 L1188.4 825.6 L1196.4 822.4 L1204.3 814.5 L1212.2 809.5 L1220.4 825.1 L1228.3 810.2 L1236.4 809.0 L1244.4 806.3 L1252.6 795.9 L1260.5 794.1 L1268.4 790.9 L1276.4 784.0 L1292.5 784.0 L1300.4 791.4 L1308.3 791.4 L1316.5 788.9 L1324.5 784.2 L1332.4 792.1 L1340.3 795.9 L1348.5 801.6 L1356.4 798.3 L1364.4 800.3 L1372.3 805.0 L1380.5 821.4 L1388.4 818.9 L1396.4 810.0 L1404.3 822.6 L1412.5 820.7 L1420.4 815.2 L1428.3 812.0 L1435.8 811.2" fill="none" stroke="#1e90ff" stroke-width="1"/>
<path d="M1161.0 322.0 L1359.3 75.8" stroke="#ff0000" stroke-width="2.8" stroke-linecap="butt" fill="none"/>
<path d="M1364.0 70.0 L1360.8 81.6 L1359.0 76.2 L1353.4 75.6 Z" fill="#ff0000"/>
<path d="M1364.0 70.0 L1383.6 117.6" stroke="#ff0000" stroke-width="2.8" stroke-linecap="butt" fill="none"/>
<path d="M1386.5 124.5 L1377.9 116.2 L1383.4 117.1 L1386.7 112.5 Z" fill="#ff0000"/>
<path d="M1384.5 127.5 L1444.0 79.1" stroke="#ff0000" stroke-width="2.8" stroke-linecap="butt" fill="none"/>
<path d="M1449.8 74.4 L1444.3 85.1 L1443.6 79.4 L1438.2 77.6 Z" fill="#ff0000"/>
<path d="M1328.0 590.5 L1398.0 633.3" stroke="#ff0000" stroke-width="2.8" stroke-linecap="butt" fill="none"/>
<path d="M1404.0 637.0 L1392.7 635.4 L1397.6 633.1 L1397.4 627.7 Z" fill="#ff0000"/>
<path d="M1404.0 637.0 L1432.0 638.1" stroke="#ff0000" stroke-width="2.8" stroke-linecap="butt" fill="none"/>
<path d="M1438.0 638.3 L1428.4 641.9 L1431.5 638.1 L1428.7 633.9 Z" fill="#ff0000"/>
<path d="M1377.0 818.3 L1429.0 814.9" stroke="#ff0000" stroke-width="2.8" stroke-linecap="butt" fill="none"/>
<path d="M1435.0 814.5 L1425.8 819.1 L1428.5 814.9 L1425.3 811.1 Z" fill="#ff0000"/>
</svg>
<div id="trade">
<div style="left:0;top:0;width:43px;height:24px;background:linear-gradient(#5858f0,#3a3adc)"></div>
<div style="left:0;top:23px;width:39px;height:1px;background:#9a9af0"></div>
<div style="left:158px;top:0;width:52px;height:24px;background:linear-gradient(#5858f0,#3a3adc)"></div>
<div style="left:162px;top:23px;width:44px;height:1px;background:#9a9af0"></div>
<div style="left:0;top:24px;width:100px;height:33px;background:linear-gradient(#3838d8,#0000b4)"></div>
<div style="left:102px;top:24px;width:108px;height:33px;background:linear-gradient(#3838d8,#0000b4)"></div>
<div style="left:43px;top:0;width:115px;height:24px;background:#f4f4f4"></div>
<div style="left:45px;top:0px;width:111px;height:21px;background:#fff;border:1px solid #b4b4b4;box-sizing:border-box"></div>
<div style="left:47px;top:2px;width:19px;height:18px;background:linear-gradient(#f2f2f2,#cfcfcf)"></div>
<div style="left:135px;top:2px;width:20px;height:18px;background:linear-gradient(#f2f2f2,#cfcfcf)"></div>
<div style="left:53px;top:8px;width:0;height:0;border-left:3px solid transparent;border-right:3px solid transparent;border-top:3px solid #4a64b4"></div>
<div style="left:141px;top:8px;width:0;height:0;border-left:3px solid transparent;border-right:3px solid transparent;border-bottom:3px solid #4a64b4"></div>
<div style="left:66px;top:3px;width:64px;height:16px;color:#000;font-size:12px;line-height:16px;text-align:right">1.00</div>
<div style="left:2.6px;top:4px;font-size:12.8px;line-height:16px;transform:scaleX(.88);transform-origin:0 0">SELL</div>
<div style="left:170.6px;top:4px;font-size:12.8px;line-height:16px;transform:scaleX(.96);transform-origin:0 0">BUY</div>
<div style="left:14.6px;top:41.4px;font-size:11px;line-height:12px;font-weight:bold;letter-spacing:1.3px">113</div>
<div style="left:37.6px;top:21.4px;font-size:34.5px;line-height:38px;letter-spacing:-2px">66</div>
<div style="left:79px;top:26px;font-size:11px;line-height:12px;font-weight:bold">5</div>
<div style="left:124.6px;top:41.4px;font-size:11px;line-height:12px;font-weight:bold;letter-spacing:1.3px">113</div>
<div style="left:148.6px;top:21.4px;font-size:34.5px;line-height:38px;letter-spacing:-2px">69</div>
<div style="left:190px;top:26px;font-size:11px;line-height:12px;font-weight:bold">3</div>
<div style="left:19.5px;top:29.5px;width:2px;height:2px;background:#e8d060;transform:rotate(45deg)"></div>
</div>

</body></html>
